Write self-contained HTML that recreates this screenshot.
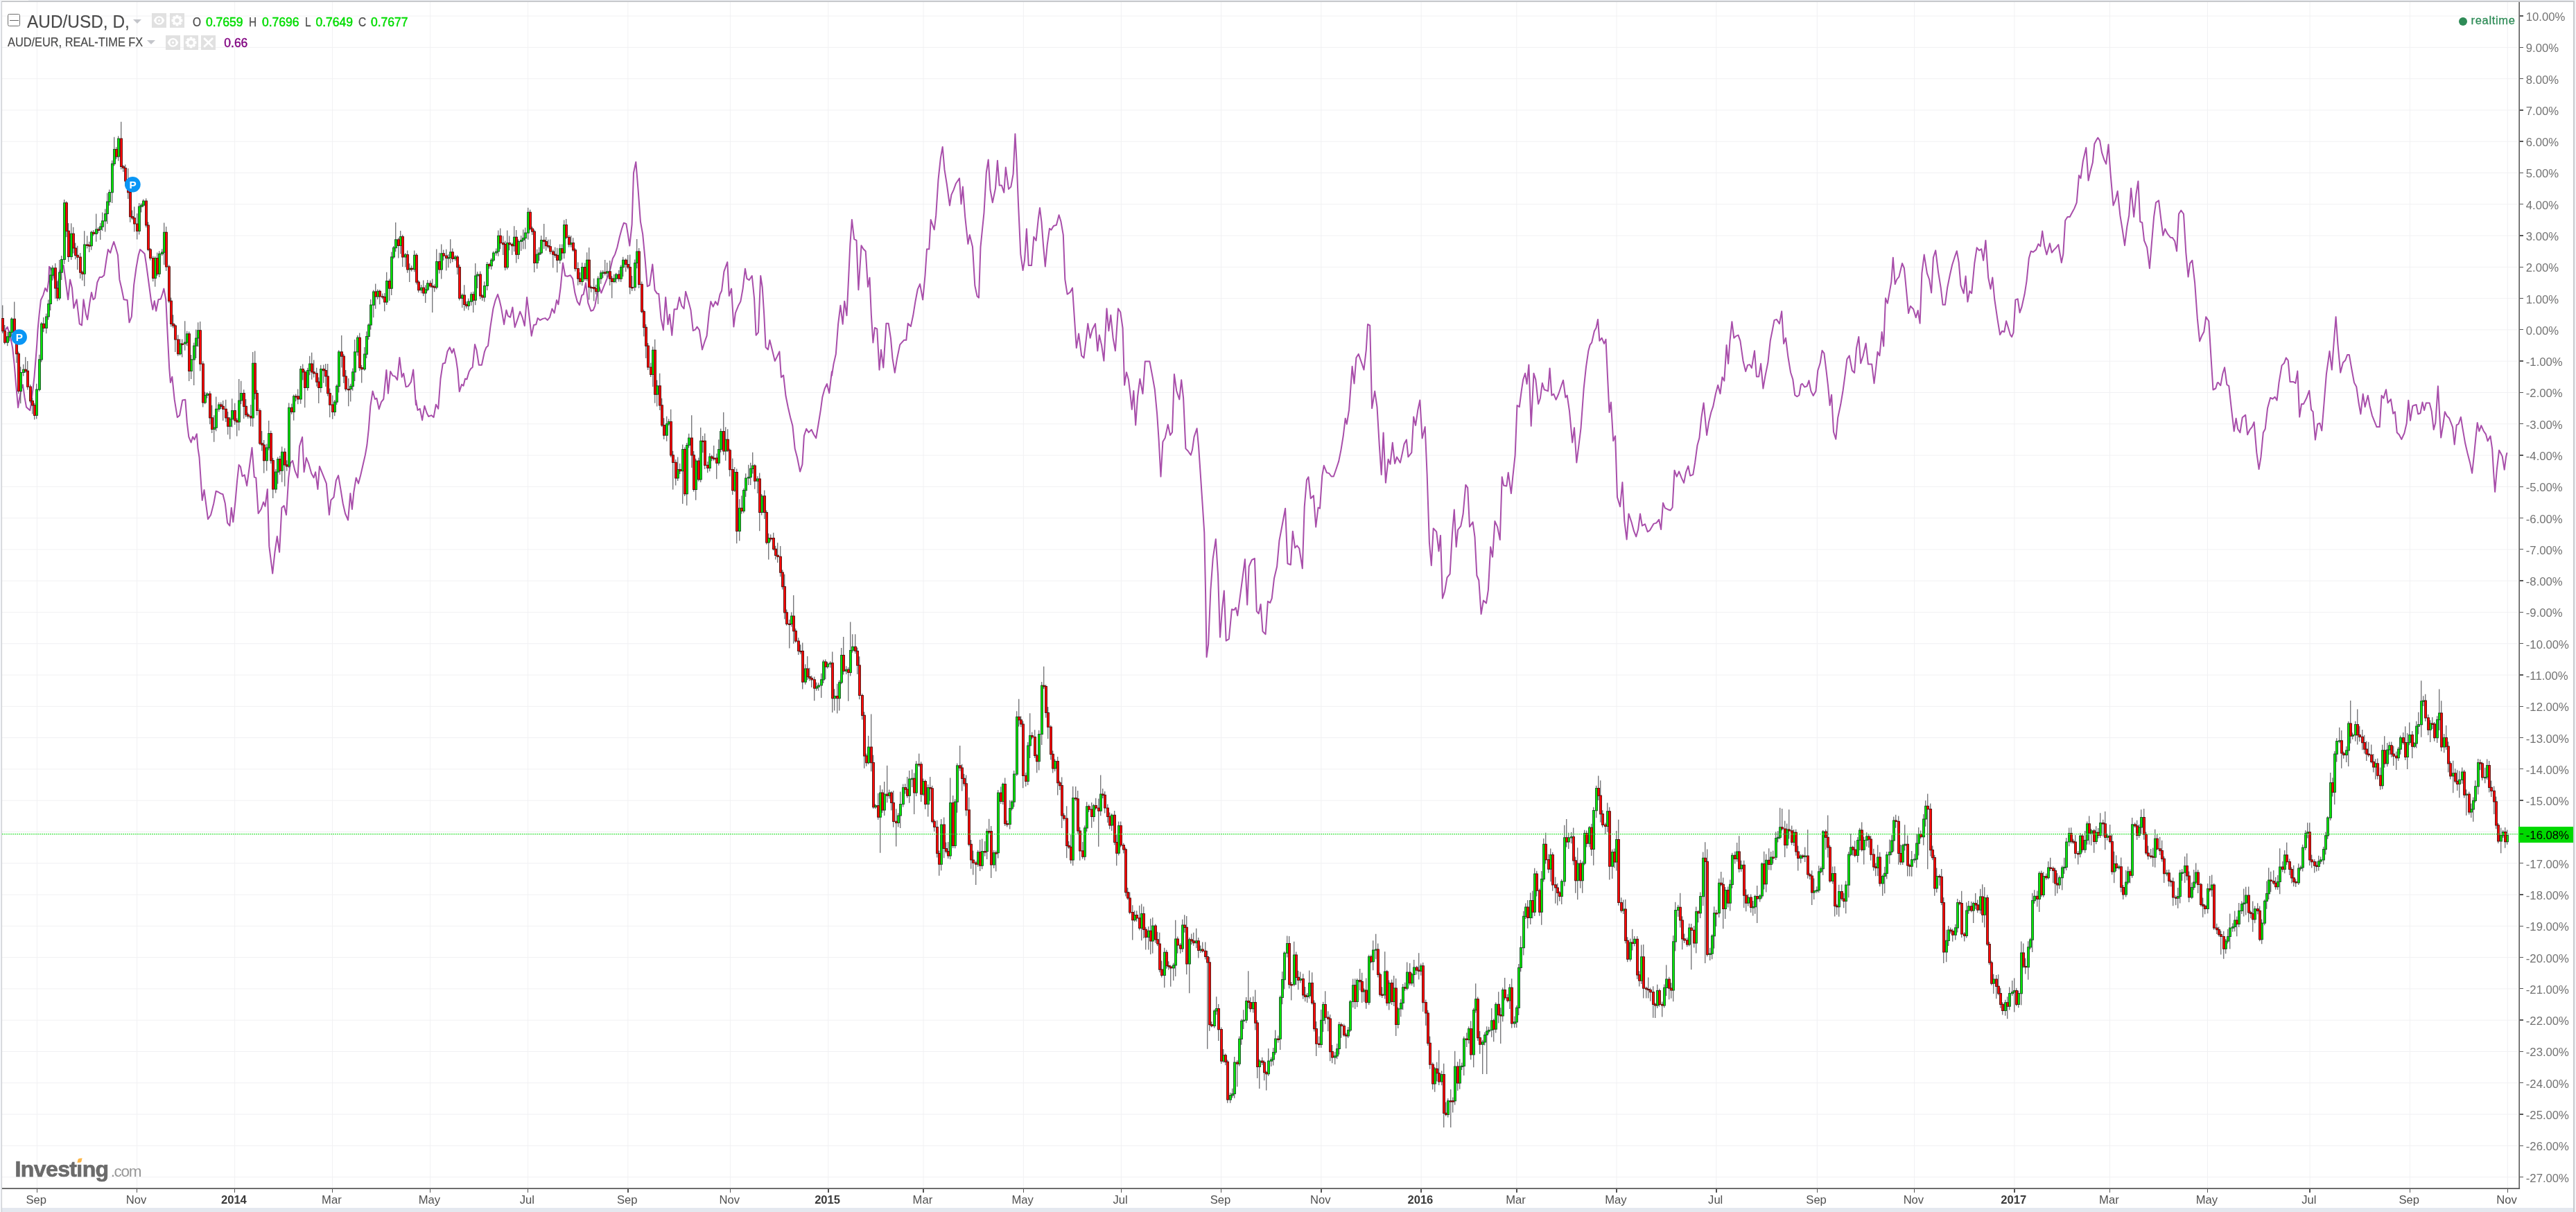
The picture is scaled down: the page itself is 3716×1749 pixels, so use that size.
<!DOCTYPE html>
<html><head><meta charset="utf-8"><title>AUD/USD</title>
<style>
html,body{margin:0;padding:0;background:#fff}
body{width:3716px;height:1749px;position:relative;overflow:hidden;font-family:"Liberation Sans",sans-serif}
#root{position:absolute;left:0;top:0;width:3716px;height:1749px;will-change:transform;transform:translateZ(0)}
.abs{position:absolute}
.hg{position:absolute;left:3px;width:3630px;height:1px;background:#f2f2f4}
.vg{position:absolute;top:3px;height:1711px;width:1px;background:#f2f2f4}
.rt{position:absolute;left:3635px;width:4.8px;height:1.4px;background:#555}
.bt{position:absolute;top:1716px;width:1.6px;height:5px;background:#555}
.rl{position:absolute;left:3643.8px;font-size:16.7px;line-height:20px;height:20px;color:#727272;white-space:nowrap}
.bl{position:absolute;top:1722.1px;width:100px;text-align:center;font-size:16.6px;line-height:20px;color:#505050;white-space:nowrap}
.bl.b{font-weight:bold;color:#3a3a3a}
#chart{position:absolute;left:0;top:0}
.ib{position:absolute;background:#e1e1e1;width:21px;height:21px}
.t1{position:absolute;white-space:nowrap}
</style></head><body><div id="root">
<!-- frame -->
<div class="abs" style="left:0;top:0;width:2px;height:1749px;background:#f1f3f7"></div>
<div class="abs" style="left:2px;top:1px;width:1.2px;height:1748px;background:#c6c8cc"></div>
<div class="abs" style="left:41px;top:0;width:3675px;height:1.3px;background:#eef0f5"></div>
<div class="abs" style="left:2px;top:1px;width:3712px;height:2px;background:#c7c9cc"></div>
<div class="abs" style="left:3712px;top:1px;width:2px;height:1748px;background:#c8cacd"></div>
<div class="abs" style="left:3714px;top:0;width:2px;height:1749px;background:#f2f3f7"></div>
<div class="abs" style="left:3px;top:1743px;width:3709px;height:6px;background:#e4e8ef"></div>

<svg id="chart" width="3716" height="1749" viewBox="0 0 3716 1749">
<path d="M3 23.10H3632M3 68.38H3632M3 113.67H3632M3 158.95H3632M3 204.24H3632M3 249.52H3632M3 294.80H3632M3 340.09H3632M3 385.37H3632M3 430.66H3632M3 475.94H3632M3 521.22H3632M3 566.51H3632M3 611.79H3632M3 657.08H3632M3 702.36H3632M3 747.64H3632M3 792.93H3632M3 838.21H3632M3 883.50H3632M3 928.78H3632M3 974.06H3632M3 1019.35H3632M3 1064.63H3632M3 1109.92H3632M3 1155.20H3632M3 1200.48H3632M3 1245.77H3632M3 1291.05H3632M3 1336.34H3632M3 1381.62H3632M3 1426.90H3632M3 1472.19H3632M3 1517.47H3632M3 1562.76H3632M3 1608.04H3632M3 1653.32H3632M3 1698.61H3632M53.40 3V1714M197.66 3V1714M338.65 3V1714M479.63 3V1714M620.62 3V1714M761.60 3V1714M905.86 3V1714M1053.40 3V1714M1194.80 3V1714M1332.09 3V1714M1476.36 3V1714M1617.34 3V1714M1761.60 3V1714M1905.87 3V1714M2050.13 3V1714M2187.83 3V1714M2332.10 3V1714M2475.90 3V1714M2621.30 3V1714M2761.61 3V1714M2905.87 3V1714M3043.57 3V1714M3184.56 3V1714M3332.10 3V1714M3476.36 3V1714M3617.30 3V1714" stroke="#f1f1f3" stroke-width="1" fill="none"/>
<path d="M6.6 477.6 L10.7 471.8 L15.7 489.2 L18.2 502.4 L20.6 525.5 L23.1 555.2 L26.1 588.2 L28.1 575.0 L30.5 562.6 L33.0 555.2 L35.5 573.4 L38.0 587.4 L43.3 592.3 L45.4 578.3 L47.9 558.5 L49.5 543.6 L51.5 518.9 L53.2 497.4 L54.5 476.0 L56.5 454.5 L58.9 433.0 L62.4 425.6 L65.2 415.7 L68.0 420.6 L70.2 405.0 L71.0 384.8 L74.3 389.0 L77.6 399.3 L82.5 415.8 L86.6 391.0 L91.6 382.8 L94.9 407.5 L98.2 432.3 L101.1 403.4 L104.0 415.8 L106.4 444.7 L110.6 432.3 L114.7 467.3 L118.0 469.4 L120.5 432.3 L123.8 452.9 L126.2 461.2 L129.5 436.4 L132.0 422.0 L134.5 432.3 L137.0 430.2 L140.3 407.5 L143.6 400.1 L146.9 400.1 L150.2 397.2 L153.5 374.5 L155.9 360.1 L159.2 365.0 L161.7 356.0 L164.2 348.9 L167.1 358.0 L170.0 368.3 L172.4 403.4 L175.3 415.8 L178.6 432.3 L183.6 433.1 L186.5 465.3 L189.8 457.0 L193.1 411.7 L196.4 386.9 L199.7 368.3 L202.1 360.1 L205.4 363.0 L208.7 366.3 L211.2 382.8 L214.5 407.5 L217.8 432.3 L220.3 446.7 L222.8 434.3 L225.2 448.8 L228.5 432.3 L231.8 431.5 L234.3 424.0 L236.4 416.6 L239.3 432.3 L241.7 481.8 L244.2 531.3 L245.9 551.9 L248.3 543.7 L251.7 576.7 L255.8 602.2 L259.1 599.4 L263.2 577.5 L267.3 576.7 L269.8 609.7 L272.3 630.3 L275.6 638.5 L278.1 630.3 L280.5 634.4 L283.8 626.2 L285.5 646.8 L287.5 660.0 L291.7 722.0 L294.5 707.0 L300.0 749.2 L304.1 743.0 L308.3 726.5 L311.6 708.8 L314.9 710.0 L318.2 712.1 L321.5 713.3 L324.8 726.5 L328.1 754.6 L331.4 758.7 L333.8 732.7 L336.3 753.3 L339.6 722.4 L342.1 693.5 L344.6 670.8 L347.0 673.7 L349.5 687.3 L352.8 685.3 L356.1 701.0 L359.4 677.0 L363.5 646.1 L366.8 688.6 L369.3 689.4 L372.6 741.0 L376.7 734.8 L380.0 724.5 L382.5 730.7 L385.8 705.9 L388.3 788.4 L393.2 827.6 L396.5 796.7 L399.8 774.0 L403.1 796.7 L406.4 732.7 L409.7 729.8 L413.0 743.0 L416.3 689.4 L418.8 668.8 L422.1 664.7 L425.4 679.1 L429.5 689.4 L432.0 644.0 L436.1 630.8 L438.6 681.2 L441.9 660.5 L445.2 668.8 L449.3 683.2 L452.6 689.4 L455.1 681.2 L458.4 705.9 L460.9 672.9 L464.2 681.2 L467.5 689.4 L470.8 697.7 L474.9 743.0 L477.4 721.6 L481.5 717.5 L484.8 693.5 L488.1 686.1 L491.4 705.9 L494.7 726.5 L498.0 741.0 L502.1 750.5 L505.4 712.1 L507.9 734.8 L510.4 710.0 L513.7 689.4 L517.0 697.7 L520.3 685.3 L523.6 670.8 L526.9 656.4 L529.4 642.0 L531.8 619.3 L534.3 586.3 L537.6 564.4 L540.9 576.0 L543.4 574.7 L546.7 590.4 L550.0 580.1 L553.3 576.0 L557.4 533.9 L559.9 567.7 L563.2 535.9 L566.5 542.1 L569.8 543.0 L573.1 548.3 L576.4 516.1 L579.7 544.2 L582.2 538.8 L585.5 558.2 L588.8 557.4 L592.9 551.2 L596.2 533.5 L599.9 584.2 L600.0 577.5 L602.5 591.9 L605.8 589.9 L609.1 606.4 L612.4 585.7 L615.7 596.0 L618.2 601.0 L622.3 599.3 L625.6 602.2 L628.9 583.7 L632.2 589.9 L635.5 546.5 L638.8 524.7 L642.1 523.8 L645.4 507.3 L648.7 501.2 L652.0 509.4 L654.5 503.2 L657.8 517.7 L660.2 534.2 L662.7 565.1 L666.0 554.8 L668.5 556.8 L671.0 546.5 L673.4 547.4 L676.7 536.2 L679.2 532.1 L681.7 530.0 L685.0 497.0 L687.5 505.3 L690.8 526.7 L694.9 526.7 L699.0 507.3 L701.5 501.2 L704.0 499.1 L707.3 472.3 L711.4 445.5 L714.7 433.1 L718.0 424.8 L720.5 433.1 L722.9 443.4 L727.1 468.2 L730.4 447.5 L732.8 455.8 L736.1 457.8 L739.4 443.4 L742.7 472.3 L746.9 459.9 L750.2 449.6 L753.5 457.8 L756.8 470.2 L760.1 429.0 L763.4 455.8 L766.7 484.7 L770.0 469.0 L773.3 468.2 L775.7 459.1 L779.0 462.0 L783.2 459.9 L786.5 459.1 L789.8 462.0 L793.1 457.8 L796.4 445.5 L799.7 451.7 L803.0 433.1 L805.4 439.3 L808.7 414.5 L812.0 379.5 L815.3 398.0 L818.6 398.8 L822.8 397.2 L826.1 402.1 L829.4 422.8 L832.7 435.1 L836.0 440.1 L839.3 426.1 L841.7 424.8 L845.0 408.3 L848.3 437.2 L852.5 448.8 L855.8 447.5 L858.3 441.3 L861.6 422.8 L864.0 412.5 L867.3 422.8 L870.6 414.5 L873.9 406.3 L877.2 398.0 L880.5 387.7 L883.8 373.3 L887.1 367.1 L890.4 356.8 L893.7 342.3 L897.0 330.0 L899.9 321.7 L903.3 322.9 L905.8 338.2 L908.3 354.7 L911.6 323.8 L914.0 249.5 L917.3 233.8 L920.6 274.3 L923.9 319.6 L927.2 338.2 L930.5 373.3 L933.8 413.3 L937.1 411.6 L941.3 381.5 L944.6 418.6 L947.9 423.6 L950.3 424.0 L953.6 459.9 L956.9 476.4 L960.2 429.0 L963.5 468.2 L966.0 453.7 L969.3 483.8 L972.6 446.3 L976.7 446.3 L980.0 429.0 L983.3 441.3 L986.6 445.5 L989.1 420.7 L993.2 435.1 L996.5 447.5 L999.8 477.2 L1003.1 475.6 L1005.6 471.5 L1008.9 476.4 L1013.0 504.5 L1016.3 493.7 L1019.6 484.7 L1022.9 451.7 L1025.4 435.1 L1028.7 442.6 L1032.0 435.1 L1035.3 440.1 L1038.6 424.8 L1041.1 419.5 L1044.4 391.8 L1049.3 378.2 L1051.8 426.9 L1055.1 416.6 L1058.4 471.5 L1060.9 451.7 L1065.0 441.3 L1068.3 435.1 L1071.6 416.6 L1074.9 387.7 L1077.4 402.1 L1080.7 404.2 L1084.8 398.0 L1088.1 431.0 L1090.6 483.8 L1093.9 479.7 L1097.2 398.0 L1099.7 414.5 L1102.1 451.7 L1104.6 501.2 L1107.9 504.5 L1110.4 490.8 L1114.5 507.3 L1117.8 521.0 L1121.1 514.4 L1124.4 507.3 L1126.9 544.5 L1130.2 541.6 L1133.5 571.3 L1136.8 587.8 L1140.1 602.2 L1143.4 614.6 L1146.7 647.6 L1150.0 660.0 L1154.1 680.6 L1157.4 670.3 L1159.9 629.0 L1163.2 618.7 L1166.5 624.1 L1170.6 620.0 L1173.9 627.0 L1177.2 632.3 L1180.5 612.5 L1183.8 591.9 L1186.3 573.3 L1189.6 561.0 L1192.9 554.0 L1196.2 567.2 L1199.9 536.2 L1200.0 541.9 L1202.5 525.4 L1205.8 511.0 L1209.1 467.7 L1212.4 440.8 L1215.7 467.7 L1218.2 434.7 L1221.5 455.3 L1223.9 405.8 L1226.4 352.1 L1228.9 317.1 L1232.2 345.1 L1235.5 346.8 L1238.4 418.2 L1242.5 354.2 L1245.4 359.2 L1248.7 362.5 L1252.0 414.0 L1254.5 400.8 L1256.9 455.3 L1259.4 494.5 L1261.9 473.0 L1265.2 474.7 L1268.5 533.7 L1271.0 504.8 L1274.3 530.4 L1278.4 466.8 L1281.7 466.8 L1285.0 488.3 L1287.5 517.2 L1290.8 537.8 L1294.1 517.2 L1298.2 497.4 L1301.5 493.6 L1304.0 490.8 L1307.3 490.8 L1309.7 466.8 L1313.9 471.0 L1317.2 455.3 L1320.5 434.7 L1323.8 417.3 L1327.1 409.9 L1331.2 432.6 L1334.5 397.5 L1337.0 359.6 L1340.3 359.6 L1342.7 317.1 L1347.7 331.5 L1350.2 310.9 L1353.5 259.3 L1356.8 228.4 L1359.7 211.9 L1362.5 244.9 L1365.8 265.5 L1370.0 296.5 L1372.4 281.2 L1375.7 273.8 L1379.0 264.7 L1384.0 257.3 L1386.5 294.4 L1388.9 269.6 L1392.2 313.0 L1396.4 352.1 L1398.8 338.9 L1403.0 356.3 L1406.3 412.0 L1409.6 427.6 L1412.0 429.7 L1414.5 356.3 L1417.0 331.5 L1419.5 306.8 L1422.8 249.0 L1425.7 230.4 L1428.5 273.8 L1431.8 292.3 L1436.0 271.7 L1438.9 231.7 L1441.7 267.6 L1445.0 267.6 L1448.3 277.9 L1450.8 241.6 L1455.0 272.9 L1458.3 269.6 L1461.6 251.1 L1464.4 193.3 L1466.5 232.5 L1469.0 294.4 L1472.3 366.6 L1475.6 390.1 L1478.1 374.8 L1480.9 330.3 L1483.8 383.1 L1488.0 383.1 L1491.3 341.8 L1494.6 347.2 L1497.9 315.0 L1499.9 300.6 L1500.0 300.0 L1502.5 320.6 L1505.0 353.6 L1507.8 384.6 L1510.7 353.6 L1514.0 329.7 L1516.5 331.8 L1519.8 326.0 L1523.9 324.8 L1527.6 310.3 L1530.5 319.8 L1533.8 339.2 L1536.3 403.1 L1539.6 424.6 L1543.7 421.7 L1547.0 415.5 L1550.3 465.0 L1552.8 502.1 L1556.1 481.5 L1560.2 513.3 L1563.5 516.6 L1566.8 489.8 L1569.3 467.1 L1572.6 487.7 L1575.9 475.3 L1580.0 467.1 L1583.3 506.3 L1585.8 483.6 L1589.1 498.0 L1592.4 520.7 L1596.5 445.2 L1599.4 477.4 L1602.3 454.7 L1605.6 487.7 L1608.9 506.3 L1613.0 445.2 L1616.3 450.6 L1619.6 473.3 L1622.1 555.8 L1625.0 537.2 L1627.9 547.5 L1630.4 568.2 L1632.8 590.8 L1635.3 564.0 L1638.2 613.5 L1641.1 572.3 L1644.4 546.7 L1648.5 568.2 L1651.8 521.5 L1658.4 521.5 L1662.5 543.4 L1665.8 562.0 L1669.1 597.0 L1671.6 634.2 L1674.5 687.8 L1677.4 637.5 L1680.7 632.1 L1684.8 612.7 L1688.1 628.0 L1691.0 623.8 L1693.9 540.1 L1697.2 564.0 L1701.3 576.4 L1704.2 548.3 L1707.1 574.3 L1710.4 647.4 L1713.7 650.7 L1717.8 656.8 L1720.0 649.1 L1722.5 630.6 L1726.6 618.2 L1729.1 645.0 L1731.6 682.1 L1734.9 731.7 L1737.3 768.8 L1739.0 851.3 L1740.6 948.2 L1743.1 929.7 L1746.4 851.3 L1749.7 805.9 L1753.8 777.9 L1757.1 830.7 L1760.0 919.4 L1762.9 880.2 L1765.8 852.5 L1768.7 924.7 L1772.8 922.2 L1776.9 879.3 L1780.2 880.2 L1782.7 876.9 L1785.2 888.4 L1788.5 863.7 L1792.6 832.7 L1795.9 807.1 L1799.2 872.7 L1801.7 817.5 L1805.8 808.0 L1809.9 805.9 L1812.8 882.2 L1815.7 885.5 L1818.6 871.9 L1821.5 911.1 L1825.6 915.2 L1828.9 867.8 L1832.2 869.9 L1834.7 863.7 L1838.0 834.8 L1842.1 817.5 L1845.4 780.3 L1849.5 758.5 L1854.1 733.7 L1857.4 813.3 L1861.9 815.0 L1864.8 766.7 L1868.1 790.6 L1871.0 787.3 L1874.3 791.5 L1878.8 820.3 L1881.7 731.7 L1885.0 692.5 L1887.5 688.3 L1890.8 719.3 L1894.9 715.1 L1898.2 760.5 L1901.5 732.5 L1904.0 733.7 L1907.3 686.3 L1909.8 671.8 L1913.9 682.1 L1917.2 683.0 L1920.5 687.5 L1923.8 687.5 L1927.1 678.0 L1931.2 665.6 L1934.5 649.1 L1937.8 628.5 L1940.7 603.8 L1942.8 612.0 L1946.1 591.4 L1948.5 558.4 L1950.6 528.7 L1953.5 553.4 L1956.4 516.3 L1959.7 510.9 L1963.4 521.3 L1967.5 533.6 L1970.8 504.8 L1973.0 468.0 L1976.2 469.7 L1979.1 589.3 L1983.2 564.6 L1986.5 587.3 L1989.8 643.0 L1992.7 685.0 L1995.6 624.4 L1998.9 696.6 L2002.6 662.8 L2005.5 669.8 L2008.8 638.8 L2012.1 668.9 L2015.0 659.5 L2019.9 667.7 L2023.1 653.1 L2025.6 640.7 L2028.9 634.5 L2031.4 659.3 L2036.3 653.1 L2039.2 601.5 L2042.1 613.9 L2045.4 591.2 L2048.3 577.6 L2051.6 632.5 L2055.7 616.0 L2058.6 684.0 L2061.9 783.0 L2064.8 816.0 L2067.7 762.4 L2072.2 767.4 L2075.5 795.4 L2078.0 772.7 L2080.9 863.5 L2084.2 853.2 L2087.5 833.4 L2091.6 828.4 L2094.9 770.7 L2097.8 735.6 L2100.7 789.2 L2103.1 764.5 L2107.3 759.1 L2110.6 741.8 L2114.3 699.7 L2117.2 703.8 L2120.0 760.3 L2124.6 753.3 L2127.5 774.8 L2130.4 830.5 L2133.3 837.5 L2136.6 886.2 L2139.9 866.4 L2144.0 870.5 L2146.9 851.1 L2150.2 789.2 L2153.1 803.7 L2156.4 752.1 L2160.1 760.3 L2163.8 778.9 L2166.7 688.2 L2169.1 700.5 L2173.3 701.4 L2175.7 682.0 L2179.9 712.1 L2182.3 688.2 L2185.6 657.2 L2188.5 585.0 L2191.8 587.1 L2194.7 564.4 L2197.2 547.9 L2200.1 538.8 L2202.6 554.1 L2205.4 526.4 L2208.7 614.7 L2212.5 538.8 L2215.3 547.9 L2219.1 583.0 L2221.9 574.7 L2224.8 552.8 L2227.7 562.3 L2233.1 564.4 L2235.6 531.4 L2238.4 570.6 L2241.3 568.5 L2244.6 576.8 L2248.3 568.5 L2251.7 558.2 L2255.0 548.7 L2258.3 573.5 L2260.7 570.6 L2264.0 593.3 L2268.2 638.6 L2271.0 617.2 L2274.3 667.5 L2277.2 644.8 L2280.5 618.0 L2284.7 560.3 L2288.0 529.3 L2291.3 506.6 L2293.7 497.6 L2296.2 494.3 L2299.9 477.8 L2302.5 473.3 L2305.0 460.9 L2307.4 491.8 L2310.7 487.7 L2314.0 496.0 L2316.5 489.8 L2319.0 543.4 L2321.5 595.0 L2323.9 580.5 L2327.2 636.2 L2330.1 629.2 L2333.0 717.5 L2337.1 731.1 L2340.4 696.0 L2343.3 751.7 L2346.6 778.5 L2349.5 741.4 L2353.6 753.8 L2356.9 766.2 L2360.2 774.4 L2363.1 764.1 L2366.0 741.4 L2368.9 758.7 L2373.0 756.3 L2376.7 767.4 L2380.0 765.3 L2385.4 755.9 L2389.5 754.6 L2393.2 749.7 L2396.1 764.1 L2399.0 725.7 L2401.9 733.2 L2406.0 735.2 L2409.7 736.5 L2412.6 732.3 L2415.5 678.7 L2418.8 687.8 L2422.1 680.4 L2425.8 689.9 L2429.1 696.9 L2432.0 681.6 L2435.3 672.5 L2438.2 686.6 L2442.3 684.9 L2445.2 667.2 L2448.5 642.4 L2451.4 632.1 L2454.3 603.2 L2457.6 581.4 L2462.1 628.0 L2465.0 609.4 L2468.3 595.0 L2471.2 586.7 L2474.9 568.2 L2478.2 555.8 L2481.5 568.2 L2484.4 544.2 L2487.3 549.6 L2490.6 498.0 L2493.1 524.8 L2495.5 491.8 L2498.4 464.2 L2501.3 487.7 L2504.6 484.8 L2507.5 483.6 L2510.4 491.8 L2514.5 520.7 L2518.2 536.0 L2521.1 526.9 L2524.0 526.1 L2526.9 531.0 L2531.0 506.3 L2533.9 543.4 L2537.2 543.4 L2540.1 524.8 L2543.4 560.7 L2546.3 543.4 L2550.4 522.8 L2553.7 491.8 L2556.6 477.4 L2559.5 462.1 L2562.8 460.9 L2566.9 467.1 L2570.2 449.3 L2573.1 496.0 L2576.0 487.7 L2579.3 514.5 L2583.0 537.2 L2586.3 547.5 L2589.2 570.2 L2592.5 572.3 L2595.4 570.2 L2597.9 555.0 L2599.9 553.7 L2603.3 558.6 L2606.6 557.3 L2609.5 549.1 L2612.4 564.4 L2615.7 571.0 L2619.4 564.4 L2622.3 534.7 L2625.6 524.3 L2628.5 505.8 L2631.4 509.9 L2634.7 536.7 L2637.1 557.3 L2639.6 585.0 L2642.1 569.7 L2645.0 623.3 L2648.3 633.7 L2651.2 602.7 L2655.3 583.3 L2658.6 563.5 L2661.9 538.8 L2664.4 518.2 L2667.7 513.2 L2671.8 534.7 L2675.1 538.0 L2678.0 502.5 L2681.3 486.0 L2684.2 524.3 L2687.5 514.0 L2691.6 495.5 L2694.9 525.6 L2700.2 525.6 L2703.5 553.2 L2706.4 528.5 L2708.5 507.8 L2711.4 513.2 L2714.7 479.0 L2717.2 499.6 L2720.0 430.3 L2722.9 437.7 L2725.8 421.2 L2728.3 406.8 L2730.8 371.7 L2733.7 410.1 L2736.1 403.5 L2739.4 399.3 L2744.0 380.0 L2746.9 387.0 L2750.2 421.2 L2753.1 452.1 L2755.9 441.8 L2760.1 446.0 L2763.8 458.3 L2766.7 448.0 L2769.6 466.6 L2772.4 394.4 L2775.7 367.6 L2779.9 394.4 L2783.2 403.5 L2786.1 422.4 L2788.9 371.7 L2792.2 361.4 L2796.0 392.3 L2799.7 415.0 L2802.6 439.8 L2805.9 439.8 L2809.2 415.0 L2812.9 396.5 L2816.2 382.0 L2819.5 371.7 L2822.8 362.2 L2825.7 378.7 L2828.5 411.7 L2832.7 423.3 L2835.6 398.5 L2838.4 435.6 L2841.3 420.0 L2844.2 423.3 L2848.3 380.0 L2851.7 357.3 L2855.0 361.4 L2858.3 359.3 L2861.1 375.8 L2864.4 346.9 L2868.2 400.6 L2871.5 417.1 L2874.3 400.6 L2877.2 431.5 L2881.4 460.4 L2885.1 483.1 L2888.0 477.7 L2891.3 479.0 L2894.1 463.3 L2897.0 472.8 L2899.9 483.1 L2902.1 486.2 L2904.5 480.0 L2907.4 432.6 L2910.7 431.4 L2913.6 451.2 L2916.5 442.9 L2920.6 424.3 L2923.5 405.8 L2926.8 372.8 L2929.7 362.5 L2933.0 363.7 L2937.1 360.4 L2940.4 352.1 L2943.3 355.4 L2946.2 333.6 L2949.1 354.2 L2952.4 367.4 L2956.9 351.3 L2959.8 364.5 L2963.1 360.4 L2966.0 357.5 L2969.3 353.0 L2973.8 379.0 L2976.3 366.6 L2979.2 318.3 L2982.5 313.0 L2985.8 313.0 L2989.1 306.8 L2992.4 300.6 L2995.7 292.3 L2999.0 253.1 L3001.5 257.3 L3004.8 232.5 L3009.3 213.1 L3012.6 260.6 L3015.5 246.9 L3018.8 234.6 L3021.3 207.8 L3023.8 202.8 L3026.2 198.7 L3029.1 202.8 L3032.0 220.1 L3035.3 230.4 L3038.2 236.6 L3041.5 208.6 L3044.4 249.0 L3048.5 296.5 L3051.8 288.2 L3054.7 275.8 L3058.4 310.9 L3061.7 331.5 L3065.0 354.2 L3068.3 327.4 L3071.2 310.9 L3074.1 271.7 L3078.2 313.0 L3081.5 280.0 L3084.4 261.4 L3087.3 320.0 L3090.2 321.2 L3093.1 347.2 L3097.2 357.1 L3100.9 387.2 L3103.8 352.1 L3107.1 313.0 L3110.0 292.3 L3114.1 289.4 L3117.4 317.1 L3120.3 339.8 L3123.2 330.3 L3126.9 337.7 L3131.0 342.7 L3133.9 343.1 L3137.2 348.0 L3140.1 362.5 L3143.0 308.8 L3146.3 303.5 L3150.0 308.8 L3153.3 364.5 L3156.6 399.6 L3159.1 380.2 L3162.4 375.7 L3166.1 407.8 L3169.8 459.4 L3173.1 492.4 L3176.4 484.2 L3179.3 478.8 L3182.2 457.3 L3186.3 463.5 L3189.6 517.2 L3192.5 562.5 L3196.2 560.5 L3198.7 552.2 L3200.0 552.1 L3203.3 556.3 L3206.2 539.8 L3209.1 530.3 L3212.4 555.0 L3215.3 557.1 L3218.6 587.2 L3222.7 622.3 L3225.6 603.7 L3228.1 619.0 L3231.4 624.3 L3234.7 602.5 L3239.2 598.8 L3242.1 627.2 L3245.4 620.2 L3248.7 616.1 L3251.6 609.1 L3255.3 653.2 L3258.6 677.1 L3261.5 659.4 L3264.8 624.3 L3267.7 619.0 L3271.0 589.3 L3275.1 574.0 L3278.4 575.7 L3281.7 572.8 L3284.6 577.7 L3287.5 552.1 L3291.6 527.4 L3294.9 524.1 L3297.8 516.3 L3300.7 520.0 L3303.5 550.9 L3308.1 550.9 L3311.4 553.0 L3314.3 535.6 L3317.2 601.7 L3320.0 583.1 L3322.9 583.1 L3327.1 574.8 L3331.2 563.7 L3334.1 591.3 L3336.6 594.2 L3339.9 634.7 L3343.2 612.0 L3346.5 610.7 L3349.3 621.5 L3352.6 581.0 L3355.9 539.8 L3360.5 506.8 L3363.8 533.6 L3366.7 494.4 L3369.6 457.3 L3372.4 496.5 L3376.2 537.7 L3379.9 523.3 L3383.2 520.0 L3386.1 512.1 L3388.9 512.1 L3392.2 531.5 L3396.0 552.1 L3399.3 558.3 L3402.6 581.8 L3405.4 597.5 L3408.7 568.6 L3411.6 587.2 L3415.8 570.7 L3418.6 586.0 L3421.9 599.6 L3425.2 607.8 L3428.5 616.1 L3432.7 616.1 L3435.6 570.7 L3438.4 574.8 L3440.0 568.9 L3442.0 562.2 L3444.6 581.4 L3448.9 576.1 L3452.2 596.9 L3454.9 594.3 L3457.8 624.3 L3460.8 627.3 L3464.4 633.9 L3468.4 625.0 L3471.7 610.8 L3474.3 577.8 L3477.0 606.8 L3480.3 586.0 L3482.9 584.7 L3485.6 584.0 L3488.2 597.6 L3491.5 596.3 L3494.5 580.4 L3497.1 592.0 L3499.8 581.4 L3504.7 581.4 L3507.7 593.6 L3510.7 620.0 L3513.3 610.1 L3516.9 557.3 L3519.2 598.6 L3521.2 631.6 L3524.2 613.4 L3526.8 594.3 L3529.8 600.2 L3533.1 603.5 L3535.7 610.1 L3538.1 616.7 L3540.7 641.5 L3543.7 613.4 L3546.6 611.8 L3549.9 601.9 L3552.2 616.7 L3556.2 639.8 L3559.5 654.0 L3563.1 667.9 L3566.1 682.8 L3568.8 658.0 L3571.4 631.6 L3573.7 610.1 L3576.3 622.3 L3579.3 614.1 L3582.6 621.7 L3585.9 626.6 L3588.6 636.5 L3592.5 629.3 L3595.2 648.1 L3597.1 681.1 L3599.1 709.8 L3601.8 677.8 L3605.1 649.7 L3607.4 654.0 L3609.7 658.6 L3612.7 677.8 L3615.0 659.6 L3616.3 654.0" fill="none" stroke="#a84eaa" stroke-width="2" stroke-linejoin="round" stroke-linecap="round"/>
<path d="M3.75 440.5V480.9M6.75 468.9V496.8M10.75 478.9V499.2M13.75 477.1V492.5M16.75 457.9V485.4M20.75 435.6V488.7M23.75 480.3V523.7M26.75 507.6V568.1M29.75 529.2V582.3M33.75 525.8V542.8M36.75 515.3V537.9M39.75 521.1V562.4M43.75 554.9V581.7M46.75 574.2V597.6M49.75 581.5V605.5M52.75 553.7V604.4M56.75 511.8V564.8M59.75 464.8V522.5M62.75 458.1V479.2M66.75 452.5V481.2M69.75 432.5V461.4M72.75 385.2V448.1M75.75 383.0V404.7M79.75 380.1V430.9M82.75 405.5V434.5M85.75 375.1V433.2M88.75 369.0V404.1M92.75 287.9V380.9M95.75 290.4V342.3M98.75 322.1V377.9M102.75 322.3V374.9M105.75 327.8V365.8M108.75 350.4V374.3M111.75 354.8V389.2M115.75 365.0V402.1M118.75 390.5V404.8M121.75 333.3V413.1M125.75 340.2V358.5M128.75 348.7V364.1M131.75 333.0V360.8M134.75 332.0V340.4M138.75 308.5V348.7M141.75 328.1V336.4M144.75 321.8V346.1M147.75 306.5V333.0M151.75 301.4V334.4M154.75 278.4V323.1M157.75 273.4V296.7M161.75 231.4V293.1M164.75 197.7V239.5M167.75 212.3V229.8M170.75 196.2V232.3M174.75 175.7V244.5M177.75 238.2V248.1M180.75 237.5V268.5M184.75 243.1V287.0M187.75 270.9V320.8M190.75 303.4V317.2M193.75 298.3V334.5M197.75 307.9V345.4M200.75 292.9V338.6M203.75 293.3V306.6M206.75 287.4V298.8M210.75 286.3V328.3M213.75 320.2V362.6M216.75 357.9V375.7M220.75 369.6V406.3M223.75 370.1V413.7M226.75 364.4V398.3M229.75 362.3V400.0M233.75 359.2V369.3M236.75 321.4V382.2M239.75 327.1V391.1M243.75 382.1V437.2M246.75 429.5V471.5M249.75 454.2V473.5M252.75 467.9V508.0M256.75 483.2V513.8M259.75 489.2V513.0M262.75 489.4V515.4M266.75 463.2V505.8M269.75 477.7V499.2M272.75 478.4V549.9M275.75 512.0V547.0M279.75 494.4V556.0M282.75 475.4V517.1M285.75 465.3V500.3M288.75 464.1V535.6M292.75 521.3V587.5M295.75 565.6V583.2M298.75 566.0V574.7M302.75 564.4V612.3M305.75 584.8V625.1M308.75 599.2V637.8M311.75 572.4V622.2M315.75 580.5V594.2M318.75 580.6V589.9M321.75 578.0V606.9M325.75 576.8V609.0M328.75 594.0V627.3M331.75 602.1V633.7M334.75 575.3V616.5M338.75 581.7V613.1M341.75 603.5V629.6M344.75 547.1V621.2M347.75 549.7V583.3M351.75 562.3V604.3M354.75 576.1V602.0M357.75 595.6V603.9M361.75 583.9V615.2M364.75 507.9V615.8M367.75 506.4V576.5M370.75 562.8V599.6M374.75 589.4V642.2M377.75 621.9V650.7M380.75 635.1V682.7M384.75 640.4V679.6M387.75 606.9V649.8M390.75 621.5V669.0M393.75 660.7V719.1M397.75 677.1V711.5M400.75 659.5V698.3M403.75 657.7V685.1M406.75 644.6V695.8M410.75 646.7V701.8M413.75 664.3V679.8M416.75 581.5V675.2M420.75 582.5V598.0M423.75 569.6V606.7M426.75 568.5V579.2M429.75 561.6V583.2M433.75 528.0V582.7M436.75 525.4V548.5M439.75 533.9V588.3M443.75 530.7V563.7M446.75 513.8V541.3M449.75 508.7V547.8M452.75 519.5V544.7M456.75 530.8V557.8M459.75 544.6V582.1M462.75 526.7V566.4M466.75 526.4V552.7M469.75 525.1V558.1M472.75 525.0V571.8M475.75 560.4V602.2M479.75 570.6V604.8M482.75 577.1V600.3M485.75 554.7V584.0M488.75 505.2V566.5M492.75 484.0V530.4M495.75 510.8V553.0M498.75 534.1V564.7M502.75 546.0V586.3M505.75 553.7V579.5M508.75 531.4V563.7M511.75 489.9V550.0M515.75 484.0V513.6M518.75 480.6V535.3M521.75 527.0V552.4M525.75 501.0V535.0M528.75 478.3V517.0M531.75 466.7V490.2M534.75 431.9V475.7M538.75 418.6V458.2M541.75 409.4V445.8M544.75 417.5V431.9M547.75 417.9V439.3M551.75 423.6V432.0M554.75 423.0V449.2M557.75 392.7V440.1M561.75 402.3V434.0M564.75 363.4V425.9M567.75 354.9V373.4M570.75 321.0V363.3M574.75 343.1V372.4M577.75 333.0V366.6M580.75 338.7V385.1M584.75 364.9V385.4M587.75 361.6V393.8M590.75 380.2V407.0M593.75 383.2V391.7M597.75 361.5V392.6M600.75 365.5V410.5M603.75 404.6V422.3M607.75 410.9V423.2M610.75 404.4V427.2M613.75 411.4V436.9M616.75 404.0V420.2M620.75 404.8V415.2M623.75 402.5V450.9M626.75 410.3V421.2M629.75 359.5V417.5M633.75 364.7V394.7M636.75 352.4V402.4M639.75 360.6V375.8M643.75 359.8V390.5M646.75 366.9V386.2M649.75 345.3V380.1M652.75 358.5V378.2M656.75 368.3V376.4M659.75 368.2V396.3M662.75 381.7V433.6M666.75 423.4V443.9M669.75 411.3V448.4M672.75 435.1V445.3M675.75 430.8V447.4M679.75 421.6V441.0M682.75 420.7V451.1M685.75 380.0V440.2M688.75 392.0V416.0M692.75 391.5V431.8M695.75 424.7V434.1M698.75 406.3V435.5M702.75 377.9V419.0M705.75 379.3V387.7M708.75 372.5V388.9M711.75 362.6V377.7M715.75 358.5V368.9M718.75 332.6V369.8M721.75 329.5V359.4M725.75 340.6V367.9M728.75 347.4V390.3M731.75 332.6V388.8M734.75 340.4V361.2M738.75 350.2V368.1M741.75 326.3V363.0M744.75 331.9V379.6M747.75 345.4V373.9M751.75 339.9V361.9M754.75 331.2V359.5M757.75 328.5V359.6M761.75 299.8V345.7M764.75 302.6V332.3M767.75 326.9V339.0M770.75 331.2V392.9M774.75 359.8V387.8M777.75 356.7V376.4M780.75 340.1V367.2M784.75 322.9V359.3M787.75 342.0V361.7M790.75 345.8V358.6M793.75 345.5V367.0M797.75 360.3V386.5M800.75 356.8V371.9M803.75 357.8V393.3M807.75 352.4V380.5M810.75 352.6V374.4M813.75 317.6V373.2M816.75 316.0V345.0M820.75 339.1V356.7M823.75 339.9V357.1M826.75 343.2V363.2M829.75 358.3V391.8M833.75 378.6V411.7M836.75 393.0V410.6M839.75 378.9V412.3M843.75 379.5V405.1M846.75 364.2V405.7M849.75 357.3V432.5M852.75 412.2V421.7M856.75 401.7V434.6M859.75 410.7V424.8M862.75 398.5V438.7M866.75 390.2V409.7M869.75 389.9V401.1M872.75 375.1V397.4M875.75 379.0V400.5M879.75 376.1V411.9M882.75 398.3V430.2M885.75 395.8V408.6M888.75 393.7V408.5M892.75 390.0V406.6M895.75 382.5V407.0M898.75 370.8V399.2M902.75 373.1V392.3M905.75 368.0V388.6M908.75 367.6V424.5M911.75 397.9V420.0M915.75 374.4V419.8M918.75 345.0V387.2M921.75 358.0V416.1M925.75 406.2V452.1M928.75 446.7V485.6M931.75 468.0V517.1M934.75 495.1V534.1M938.75 523.4V543.9M941.75 500.2V558.3M944.75 489.7V581.8M947.75 548.5V586.6M951.75 538.8V591.9M954.75 574.7V616.1M957.75 603.3V634.0M961.75 600.7V636.7M964.75 604.4V614.1M967.75 590.7V660.0M970.75 650.8V706.5M974.75 662.9V700.5M977.75 659.6V694.0M980.75 668.8V684.1M984.75 641.4V727.1M987.75 645.4V715.9M990.75 638.9V729.5M993.75 625.7V646.2M997.75 599.2V674.9M1000.75 651.0V709.6M1003.75 661.7V721.7M1007.75 660.4V694.8M1010.75 616.9V696.1M1013.75 628.9V653.3M1016.75 625.5V676.9M1020.75 665.9V682.3M1023.75 653.9V680.3M1026.75 656.4V665.3M1029.75 643.1V665.3M1033.75 654.5V691.2M1036.75 634.2V671.8M1039.75 618.5V652.7M1043.75 595.1V656.6M1046.75 616.3V664.7M1049.75 619.3V652.3M1052.75 647.5V687.4M1056.75 661.4V713.9M1059.75 674.0V709.9M1062.75 676.4V784.3M1066.75 720.2V780.5M1069.75 715.3V741.4M1072.75 704.8V740.6M1075.75 683.2V717.0M1079.75 670.7V700.1M1082.75 667.7V699.9M1085.75 652.8V683.5M1088.75 669.8V705.7M1092.75 687.3V711.9M1095.75 682.6V766.3M1098.75 712.9V743.5M1102.75 707.5V749.1M1105.75 736.5V785.4M1108.75 769.8V807.5M1111.75 771.3V781.6M1115.75 768.7V794.5M1118.75 787.8V807.4M1121.75 783.3V812.0M1125.75 787.9V832.3M1128.75 822.2V850.7M1131.75 828.7V893.6M1134.75 879.4V902.7M1138.75 893.9V935.4M1141.75 883.6V904.4M1144.75 859.1V928.7M1147.75 906.9V927.5M1151.75 920.3V945.1M1154.75 930.2V944.3M1157.75 927.4V994.6M1161.75 958.6V987.7M1164.75 947.1V981.2M1167.75 963.8V982.6M1170.75 975.0V991.9M1174.75 976.4V1011.2M1177.75 984.7V996.7M1180.75 985.3V996.7M1184.75 971.8V1007.0M1187.75 952.0V986.1M1190.75 951.5V980.2M1193.75 955.0V964.8M1197.75 954.3V963.4M1200.75 940.5V1028.2M1203.75 994.3V1025.6M1207.75 986.7V1029.5M1210.75 981.4V1025.6M1213.75 935.0V987.3M1216.75 918.9V973.6M1220.75 961.3V973.1M1223.75 963.0V1011.7M1226.75 897.5V975.4M1229.75 915.3V941.7M1233.75 915.3V943.2M1236.75 934.6V973.1M1239.75 947.3V1009.2M1243.75 1001.0V1038.5M1246.75 1027.3V1108.8M1249.75 1087.4V1105.7M1252.75 1061.7V1103.1M1256.75 1030.6V1113.3M1259.75 1089.5V1167.1M1262.75 1160.2V1167.3M1266.75 1144.7V1183.1M1269.75 1133.3V1230.7M1272.75 1139.3V1172.9M1275.75 1128.1V1176.9M1279.75 1104.8V1158.2M1282.75 1139.5V1152.4M1285.75 1141.8V1169.4M1288.75 1140.9V1193.7M1292.75 1167.3V1221.6M1295.75 1173.2V1193.5M1298.75 1142.5V1195.0M1302.75 1131.4V1164.5M1305.75 1130.9V1145.5M1308.75 1121.1V1151.6M1311.75 1112.0V1158.7M1315.75 1110.5V1136.0M1318.75 1115.4V1175.0M1321.75 1098.2V1149.0M1325.75 1087.5V1106.7M1328.75 1099.2V1157.0M1331.75 1123.6V1148.7M1334.75 1125.1V1167.7M1338.75 1132.0V1178.5M1341.75 1121.1V1155.8M1344.75 1133.7V1188.0M1347.75 1182.5V1200.0M1351.75 1183.7V1237.4M1354.75 1227.6V1263.7M1357.75 1182.0V1256.3M1361.75 1179.5V1238.3M1364.75 1215.5V1231.6M1367.75 1215.0V1239.1M1370.75 1122.6V1239.9M1374.75 1148.0V1223.9M1377.75 1153.3V1224.3M1380.75 1101.6V1172.8M1384.75 1076.0V1112.8M1387.75 1102.8V1141.4M1390.75 1116.8V1134.7M1393.75 1118.4V1177.5M1397.75 1150.8V1221.2M1400.75 1212.1V1253.8M1403.75 1227.4V1262.5M1407.75 1242.6V1276.9M1410.75 1226.8V1250.7M1413.75 1211.8V1256.9M1416.75 1210.6V1254.3M1420.75 1213.9V1235.7M1423.75 1195.7V1240.1M1426.75 1181.7V1203.8M1429.75 1191.9V1267.0M1433.75 1226.9V1253.0M1436.75 1227.5V1257.5M1439.75 1140.0V1238.5M1443.75 1135.3V1160.0M1446.75 1129.4V1161.1M1449.75 1122.4V1192.1M1452.75 1184.1V1193.4M1456.75 1154.7V1196.5M1459.75 1154.6V1169.6M1462.75 1111.9V1164.4M1466.75 1026.2V1120.0M1469.75 1008.7V1048.4M1472.75 1033.4V1049.3M1475.75 1040.5V1137.3M1479.75 1114.8V1134.9M1482.75 1071.0V1133.1M1485.75 1029.3V1094.0M1488.75 1056.5V1067.1M1492.75 1053.3V1094.0M1495.75 1088.2V1115.2M1498.75 1053.8V1111.5M1502.75 983.9V1074.9M1505.75 961.7V993.9M1508.75 988.3V1035.7M1511.75 1020.0V1066.3M1515.75 1046.4V1096.6M1518.75 1083.3V1115.5M1521.75 1095.5V1113.2M1525.75 1091.9V1147.6M1528.75 1126.7V1140.1M1531.75 1121.4V1195.0M1534.75 1173.5V1184.2M1538.75 1163.2V1238.3M1541.75 1214.1V1224.9M1544.75 1204.4V1246.2M1547.75 1134.8V1249.2M1551.75 1135.1V1156.1M1554.75 1141.1V1202.8M1557.75 1193.6V1241.7M1561.75 1214.7V1239.6M1564.75 1191.2V1241.5M1567.75 1157.2V1200.1M1570.75 1160.9V1172.0M1574.75 1157.9V1194.7M1577.75 1160.2V1185.7M1580.75 1151.7V1168.4M1584.75 1152.5V1221.7M1587.75 1118.6V1177.3M1590.75 1137.9V1151.9M1593.75 1141.9V1173.6M1597.75 1160.4V1187.3M1600.75 1172.5V1196.5M1603.75 1174.0V1198.9M1607.75 1170.0V1219.4M1610.75 1204.4V1249.3M1613.75 1185.6V1234.6M1616.75 1185.4V1222.5M1620.75 1216.6V1231.5M1623.75 1223.0V1293.5M1626.75 1281.1V1298.4M1629.75 1287.5V1319.3M1633.75 1306.2V1356.6M1636.75 1314.1V1330.3M1639.75 1314.2V1330.0M1643.75 1306.8V1342.4M1646.75 1304.4V1357.3M1649.75 1308.3V1354.0M1652.75 1337.8V1370.5M1656.75 1337.0V1370.5M1659.75 1325.8V1377.2M1662.75 1324.1V1375.8M1666.75 1333.4V1360.7M1669.75 1344.8V1365.2M1672.75 1345.7V1403.3M1675.75 1386.4V1410.5M1679.75 1367.8V1425.2M1682.75 1370.7V1397.8M1685.75 1387.2V1399.5M1688.75 1392.5V1423.8M1692.75 1389.6V1415.0M1695.75 1327.7V1409.1M1698.75 1351.6V1375.8M1702.75 1361.1V1375.9M1705.75 1326.7V1373.9M1708.75 1320.2V1345.7M1711.75 1321.9V1406.3M1715.75 1352.9V1433.3M1718.75 1347.4V1363.1M1721.75 1345.7V1364.8M1725.75 1339.8V1368.3M1728.75 1352.9V1382.6M1731.75 1364.4V1374.9M1734.75 1359.6V1374.8M1738.75 1359.5V1384.5M1741.75 1372.0V1513.8M1744.75 1381.1V1487.7M1747.75 1474.2V1482.6M1751.75 1456.5V1483.6M1754.75 1438.3V1464.6M1757.75 1449.0V1501.9M1761.75 1482.6V1534.9M1764.75 1514.1V1533.4M1767.75 1520.6V1537.3M1770.75 1529.4V1591.7M1774.75 1576.8V1591.7M1777.75 1570.8V1584.2M1780.75 1524.9V1584.7M1784.75 1530.1V1568.2M1787.75 1495.4V1538.4M1790.75 1470.5V1507.8M1793.75 1457.2V1485.0M1797.75 1439.1V1476.2M1800.75 1401.2V1455.2M1803.75 1439.2V1460.5M1807.75 1437.9V1461.4M1810.75 1428.5V1486.6M1813.75 1472.3V1556.1M1816.75 1528.6V1571.1M1820.75 1525.7V1537.1M1823.75 1530.6V1559.2M1826.75 1545.3V1573.6M1829.75 1513.1V1552.8M1833.75 1525.5V1539.1M1836.75 1512.1V1537.6M1839.75 1486.5V1522.1M1843.75 1494.6V1504.7M1846.75 1436.8V1514.9M1849.75 1402.0V1449.3M1852.75 1373.1V1427.4M1856.75 1350.6V1381.4M1859.75 1351.1V1426.6M1862.75 1416.9V1443.4M1866.75 1358.8V1423.2M1869.75 1373.5V1421.2M1872.75 1400.8V1428.3M1875.75 1402.5V1418.6M1879.75 1405.3V1441.7M1882.75 1424.1V1445.2M1885.75 1433.1V1447.0M1888.75 1400.6V1440.9M1892.75 1403.3V1449.8M1895.75 1443.5V1488.5M1898.75 1474.0V1524.1M1902.75 1495.4V1512.0M1905.75 1456.9V1512.0M1908.75 1445.7V1489.2M1911.75 1430.2V1477.7M1915.75 1459.2V1488.2M1918.75 1464.1V1531.2M1921.75 1508.0V1534.2M1925.75 1518.1V1536.1M1928.75 1506.1V1528.3M1931.75 1474.8V1521.8M1934.75 1475.8V1497.7M1938.75 1477.4V1496.1M1941.75 1490.8V1513.0M1944.75 1481.9V1498.1M1947.75 1443.1V1489.2M1951.75 1412.4V1453.9M1954.75 1412.3V1455.9M1957.75 1411.9V1453.2M1961.75 1398.0V1429.3M1964.75 1403.8V1447.0M1967.75 1426.3V1445.8M1970.75 1411.5V1455.8M1974.75 1377.8V1450.3M1977.75 1377.8V1390.1M1980.75 1357.3V1400.3M1984.75 1347.7V1384.2M1987.75 1361.6V1410.6M1990.75 1403.4V1438.0M1993.75 1424.2V1440.0M1997.75 1373.3V1441.6M2000.75 1399.8V1451.6M2003.75 1414.4V1457.5M2007.75 1413.6V1450.1M2010.75 1408.1V1452.0M2013.75 1412.1V1495.0M2016.75 1453.4V1484.0M2020.75 1441.8V1467.2M2023.75 1420.0V1457.3M2026.75 1417.8V1429.8M2029.75 1388.5V1428.9M2033.75 1390.1V1422.0M2036.75 1404.1V1422.2M2039.75 1384.9V1424.3M2043.75 1393.7V1406.5M2046.75 1375.3V1413.4M2049.75 1390.4V1407.8M2052.75 1389.1V1460.0M2056.75 1442.6V1480.0M2059.75 1457.7V1509.0M2062.75 1495.6V1542.7M2066.75 1533.3V1572.3M2069.75 1539.7V1575.7M2072.75 1532.8V1560.4M2075.75 1515.6V1565.9M2079.75 1545.3V1566.3M2082.75 1534.8V1627.0M2085.75 1590.6V1610.8M2088.75 1585.0V1612.5M2092.75 1572.1V1627.0M2095.75 1583.5V1605.4M2098.75 1516.8V1594.6M2102.75 1532.2V1573.9M2105.75 1528.2V1571.7M2108.75 1533.4V1544.1M2111.75 1495.8V1552.0M2115.75 1490.2V1510.9M2118.75 1481.3V1506.1M2121.75 1473.2V1529.3M2125.75 1454.6V1540.3M2128.75 1419.2V1461.5M2131.75 1438.4V1502.0M2134.75 1487.9V1520.8M2138.75 1500.6V1550.0M2141.75 1489.5V1508.4M2144.75 1481.3V1550.0M2147.75 1481.8V1491.6M2151.75 1454.9V1496.8M2154.75 1470.0V1503.2M2157.75 1446.5V1490.4M2161.75 1431.3V1476.6M2164.75 1454.2V1505.9M2167.75 1425.2V1474.3M2170.75 1411.0V1443.5M2174.75 1434.6V1446.4M2177.75 1420.1V1455.9M2180.75 1412.2V1483.5M2184.75 1466.5V1483.0M2187.75 1451.1V1482.9M2190.75 1391.1V1464.9M2193.75 1350.7V1402.2M2197.75 1314.8V1378.4M2200.75 1303.5V1326.1M2203.75 1298.9V1339.7M2207.75 1288.2V1334.0M2210.75 1285.5V1325.3M2213.75 1252.7V1322.0M2216.75 1256.7V1293.5M2220.75 1282.3V1321.7M2223.75 1257.0V1334.7M2226.75 1210.0V1272.6M2229.75 1201.8V1246.6M2233.75 1232.4V1259.7M2236.75 1224.4V1272.2M2239.75 1230.1V1285.7M2243.75 1265.4V1303.7M2246.75 1274.7V1306.4M2249.75 1286.0V1300.5M2252.75 1268.7V1305.0M2256.75 1190.8V1278.7M2259.75 1182.0V1222.5M2262.75 1201.8V1225.0M2266.75 1200.9V1217.3M2269.75 1194.4V1248.6M2272.75 1236.4V1288.7M2275.75 1223.3V1298.3M2279.75 1240.7V1281.8M2282.75 1242.9V1288.7M2285.75 1197.7V1248.5M2288.75 1198.5V1222.4M2292.75 1192.1V1222.6M2295.75 1188.8V1235.0M2298.75 1164.7V1248.8M2302.75 1133.7V1180.2M2305.75 1119.5V1155.0M2308.75 1126.3V1186.8M2311.75 1169.3V1193.9M2315.75 1187.2V1203.8M2318.75 1158.4V1200.8M2321.75 1164.7V1269.5M2325.75 1225.7V1268.1M2328.75 1224.6V1252.4M2331.75 1198.9V1256.6M2334.75 1182.8V1306.8M2338.75 1295.3V1317.1M2341.75 1298.6V1318.9M2344.75 1298.0V1361.5M2347.75 1352.2V1388.2M2351.75 1354.6V1387.6M2354.75 1340.8V1371.6M2357.75 1351.0V1365.4M2361.75 1350.9V1413.1M2364.75 1401.2V1423.6M2367.75 1363.5V1420.1M2370.75 1362.9V1440.4M2374.75 1423.7V1440.6M2377.75 1410.6V1440.4M2380.75 1425.6V1444.8M2384.75 1423.2V1468.7M2387.75 1447.1V1469.0M2390.75 1420.7V1455.0M2393.75 1426.7V1452.5M2397.75 1445.5V1467.5M2400.75 1420.6V1454.2M2403.75 1392.4V1437.3M2407.75 1409.7V1442.2M2410.75 1418.2V1440.7M2413.75 1349.9V1445.2M2416.75 1301.7V1372.4M2420.75 1305.8V1323.0M2423.75 1288.8V1338.6M2426.75 1322.2V1370.3M2429.75 1347.6V1361.0M2433.75 1353.0V1366.2M2436.75 1332.7V1365.6M2439.75 1333.0V1399.3M2443.75 1336.0V1367.4M2446.75 1308.6V1375.5M2449.75 1313.4V1331.2M2452.75 1287.6V1325.0M2456.75 1229.5V1307.3M2459.75 1215.3V1389.9M2462.75 1225.4V1380.2M2466.75 1367.8V1385.9M2469.75 1348.3V1384.3M2472.75 1308.3V1368.7M2475.75 1313.0V1336.9M2479.75 1267.7V1324.0M2482.75 1258.0V1278.8M2485.75 1266.4V1340.3M2488.75 1279.9V1325.9M2492.75 1279.6V1309.4M2495.75 1269.6V1314.5M2498.75 1230.7V1282.1M2502.75 1228.7V1246.5M2505.75 1215.9V1243.6M2508.75 1206.3V1259.1M2511.75 1241.8V1257.9M2515.75 1241.8V1310.1M2518.75 1283.3V1315.2M2521.75 1290.3V1307.8M2525.75 1290.6V1317.1M2528.75 1300.1V1321.5M2531.75 1291.3V1318.7M2534.75 1278.1V1332.1M2538.75 1290.4V1301.4M2541.75 1244.5V1296.4M2544.75 1228.7V1283.6M2547.75 1232.5V1287.4M2551.75 1224.2V1255.6M2554.75 1229.1V1255.8M2557.75 1227.6V1246.2M2561.75 1200.3V1240.9M2564.75 1199.3V1215.6M2567.75 1165.8V1211.2M2570.75 1167.1V1198.4M2574.75 1184.5V1236.9M2577.75 1188.4V1224.5M2580.75 1168.3V1210.6M2584.75 1191.5V1219.4M2587.75 1196.9V1220.9M2590.75 1196.7V1234.7M2593.75 1220.4V1256.4M2597.75 1232.6V1245.8M2600.75 1232.7V1239.3M2603.75 1222.6V1243.9M2607.75 1197.2V1267.8M2610.75 1259.7V1269.3M2613.75 1256.3V1306.0M2616.75 1267.5V1297.9M2620.75 1279.2V1288.7M2623.75 1249.2V1288.3M2626.75 1250.5V1260.1M2629.75 1197.9V1263.1M2633.75 1197.1V1226.3M2636.75 1176.6V1237.6M2639.75 1219.7V1273.8M2643.75 1250.6V1275.4M2646.75 1250.3V1322.6M2649.75 1304.8V1320.0M2652.75 1276.8V1322.8M2656.75 1276.4V1299.8M2659.75 1288.7V1310.2M2662.75 1271.2V1318.3M2666.75 1229.1V1295.2M2669.75 1203.0V1235.4M2672.75 1220.5V1234.8M2675.75 1213.3V1237.0M2679.75 1207.9V1244.6M2682.75 1194.7V1226.9M2685.75 1186.5V1228.7M2688.75 1207.4V1247.5M2692.75 1201.3V1221.7M2695.75 1203.9V1223.3M2698.75 1206.2V1241.7M2702.75 1224.7V1256.4M2705.75 1245.6V1264.2M2708.75 1219.2V1264.2M2711.75 1229.8V1279.2M2715.75 1261.9V1292.8M2718.75 1250.7V1289.3M2721.75 1228.9V1268.4M2725.75 1211.5V1246.8M2728.75 1205.1V1233.9M2731.75 1178.4V1228.7M2734.75 1175.8V1194.7M2738.75 1177.4V1247.8M2741.75 1219.1V1248.2M2744.75 1217.8V1248.0M2747.75 1190.3V1227.6M2751.75 1205.6V1264.6M2754.75 1246.4V1264.5M2757.75 1228.0V1264.8M2761.75 1232.3V1245.2M2764.75 1203.1V1252.2M2767.75 1194.1V1234.5M2770.75 1198.6V1210.3M2774.75 1174.8V1219.7M2777.75 1155.2V1192.8M2780.75 1145.4V1254.2M2784.75 1159.6V1235.8M2787.75 1220.5V1241.3M2790.75 1233.7V1292.7M2793.75 1252.6V1287.9M2797.75 1261.8V1278.1M2800.75 1254.0V1306.3M2803.75 1294.9V1390.1M2807.75 1341.7V1388.3M2810.75 1335.9V1365.1M2813.75 1338.6V1347.3M2816.75 1340.3V1358.8M2820.75 1333.8V1356.4M2823.75 1297.1V1345.5M2826.75 1299.3V1306.2M2829.75 1285.7V1353.0M2833.75 1345.0V1358.6M2836.75 1302.2V1353.6M2839.75 1300.0V1318.8M2843.75 1301.1V1316.4M2846.75 1301.3V1332.0M2849.75 1289.0V1312.1M2852.75 1298.4V1317.3M2856.75 1282.7V1318.8M2859.75 1276.2V1331.5M2862.75 1280.2V1338.2M2866.75 1291.4V1365.1M2869.75 1359.1V1392.5M2872.75 1386.4V1421.7M2875.75 1405.8V1434.1M2879.75 1407.0V1441.3M2882.75 1406.2V1436.3M2885.75 1425.8V1454.7M2888.75 1446.3V1464.6M2892.75 1442.8V1465.8M2895.75 1438.3V1470.2M2898.75 1424.6V1457.5M2902.75 1415.1V1436.9M2905.75 1411.5V1460.5M2908.75 1425.8V1451.8M2911.75 1429.6V1454.2M2915.75 1358.4V1450.4M2918.75 1361.6V1397.0M2921.75 1382.7V1405.6M2925.75 1358.2V1413.7M2928.75 1353.5V1370.0M2931.75 1288.7V1374.1M2934.75 1284.2V1304.0M2938.75 1285.6V1308.5M2941.75 1257.5V1316.1M2944.75 1256.4V1294.4M2947.75 1258.3V1294.7M2951.75 1260.6V1269.7M2954.75 1242.9V1268.9M2957.75 1237.7V1256.9M2961.75 1250.5V1274.3M2964.75 1252.5V1292.8M2967.75 1260.1V1289.3M2970.75 1263.5V1282.8M2974.75 1249.3V1284.6M2977.75 1237.7V1260.9M2980.75 1209.1V1256.1M2984.75 1194.4V1221.2M2987.75 1194.3V1217.3M2990.75 1210.4V1218.0M2993.75 1205.1V1238.7M2997.75 1228.3V1247.6M3000.75 1202.1V1237.3M3003.75 1203.0V1230.2M3007.75 1198.9V1230.8M3010.75 1185.6V1218.8M3013.75 1177.4V1218.8M3016.75 1195.9V1220.1M3020.75 1196.3V1230.7M3023.75 1192.3V1218.2M3026.75 1195.1V1209.7M3029.75 1173.3V1209.0M3033.75 1182.7V1206.9M3036.75 1170.9V1226.3M3039.75 1203.4V1212.7M3043.75 1190.0V1217.1M3046.75 1204.3V1262.2M3049.75 1228.7V1274.3M3052.75 1234.3V1257.3M3056.75 1247.7V1254.7M3059.75 1237.6V1287.4M3062.75 1277.1V1297.9M3066.75 1255.8V1294.6M3069.75 1250.4V1276.2M3072.75 1254.4V1274.5M3075.75 1179.9V1266.8M3079.75 1187.1V1194.6M3082.75 1183.8V1211.9M3085.75 1189.7V1209.1M3088.75 1168.3V1203.7M3092.75 1166.9V1211.8M3095.75 1200.6V1233.6M3098.75 1220.6V1240.6M3102.75 1225.0V1238.9M3105.75 1223.5V1250.8M3108.75 1196.8V1251.8M3111.75 1204.0V1227.1M3115.75 1207.7V1233.9M3118.75 1212.8V1243.4M3121.75 1235.8V1274.0M3125.75 1254.9V1264.4M3128.75 1254.8V1279.3M3131.75 1269.2V1279.4M3134.75 1266.4V1307.3M3138.75 1292.0V1306.2M3141.75 1281.0V1310.8M3144.75 1255.3V1303.6M3147.75 1253.9V1271.1M3151.75 1236.0V1274.1M3154.75 1231.6V1270.5M3157.75 1257.4V1301.9M3161.75 1273.5V1297.3M3164.75 1255.1V1284.3M3167.75 1245.5V1276.0M3170.75 1255.1V1289.1M3174.75 1274.0V1308.1M3177.75 1295.6V1323.8M3180.75 1305.0V1319.3M3184.75 1275.1V1318.3M3187.75 1264.0V1286.7M3190.75 1262.4V1293.9M3193.75 1274.7V1342.1M3197.75 1332.7V1348.1M3200.75 1337.4V1351.6M3203.75 1343.2V1377.5M3207.75 1343.7V1383.7M3210.75 1354.9V1376.2M3213.75 1340.8V1361.4M3216.75 1318.5V1369.5M3220.75 1332.2V1344.7M3223.75 1314.4V1344.3M3226.75 1322.6V1351.3M3229.75 1302.9V1338.1M3233.75 1300.6V1319.1M3236.75 1282.6V1322.5M3239.75 1279.8V1320.5M3243.75 1279.4V1330.7M3246.75 1314.3V1325.2M3249.75 1300.5V1344.7M3252.75 1307.5V1332.3M3256.75 1303.2V1319.4M3259.75 1307.5V1358.3M3262.75 1326.4V1362.2M3266.75 1298.0V1335.2M3269.75 1271.6V1311.8M3272.75 1252.2V1298.0M3275.75 1257.7V1287.0M3279.75 1255.9V1276.8M3282.75 1265.8V1283.8M3285.75 1263.0V1283.9M3288.75 1224.3V1290.3M3292.75 1242.9V1258.4M3295.75 1227.1V1260.2M3298.75 1215.8V1248.0M3302.75 1239.3V1263.1M3305.75 1251.5V1274.6M3308.75 1248.8V1279.3M3311.75 1268.5V1279.9M3315.75 1246.3V1277.0M3318.75 1249.0V1256.3M3321.75 1218.7V1257.4M3325.75 1198.2V1227.0M3328.75 1187.2V1209.6M3331.75 1187.3V1248.9M3334.75 1233.4V1252.4M3338.75 1240.1V1259.4M3341.75 1243.1V1257.5M3344.75 1234.8V1256.5M3347.75 1236.3V1246.8M3351.75 1221.8V1247.5M3354.75 1200.6V1233.2M3357.75 1177.9V1210.7M3361.75 1115.0V1184.1M3364.75 1122.2V1149.5M3367.75 1083.9V1161.1M3370.75 1065.3V1099.6M3374.75 1049.8V1072.6M3377.75 1053.9V1108.8M3380.75 1084.4V1094.7M3384.75 1077.0V1099.9M3387.75 1041.1V1105.9M3390.75 1011.1V1072.7M3393.75 1057.3V1067.0M3397.75 1040.8V1069.7M3400.75 1023.4V1074.5M3403.75 1047.7V1070.2M3407.75 1052.9V1082.3M3410.75 1060.7V1087.4M3413.75 1069.5V1098.0M3416.75 1070.7V1092.5M3420.75 1074.6V1101.6M3423.75 1088.1V1114.4M3426.75 1095.3V1124.8M3429.75 1094.4V1124.7M3433.75 1107.4V1139.8M3436.75 1074.8V1138.7M3439.75 1062.2V1107.8M3443.75 1071.9V1106.2M3446.75 1070.6V1089.2M3449.75 1070.6V1092.8M3452.75 1076.4V1105.0M3456.75 1084.6V1110.9M3459.75 1077.7V1098.0M3462.75 1061.5V1088.7M3466.75 1057.1V1074.5M3469.75 1048.2V1097.0M3472.75 1058.0V1110.1M3475.75 1042.6V1075.3M3479.75 1054.9V1094.2M3482.75 1070.7V1079.6M3485.75 1040.8V1079.4M3488.75 1027.8V1059.6M3492.75 982.2V1063.7M3495.75 1004.3V1019.0M3498.75 1001.7V1041.1M3502.75 1030.9V1060.9M3505.75 1039.2V1071.1M3508.75 1034.9V1052.1M3511.75 1042.0V1069.8M3515.75 1033.3V1072.0M3518.75 994.6V1054.0M3521.75 1011.2V1084.2M3525.75 1058.9V1086.2M3528.75 1046.7V1081.9M3531.75 1070.2V1114.5M3534.75 1098.5V1124.5M3538.75 1097.8V1144.2M3541.75 1109.2V1130.3M3544.75 1111.2V1141.0M3547.75 1112.5V1151.2M3551.75 1107.4V1130.9M3554.75 1110.9V1151.5M3557.75 1139.3V1176.7M3561.75 1142.5V1175.4M3564.75 1159.5V1179.9M3567.75 1150.5V1185.8M3570.75 1126.3V1157.9M3574.75 1095.1V1146.6M3577.75 1096.1V1111.3M3580.75 1099.6V1126.2M3584.75 1107.8V1130.3M3587.75 1095.6V1125.0M3590.75 1098.1V1143.5M3593.75 1126.4V1149.9M3597.75 1134.4V1174.9M3600.75 1149.4V1196.2M3603.75 1187.8V1217.1M3607.75 1194.6V1231.2M3610.75 1197.8V1209.0M3613.75 1194.1V1223.8M3616.75 1197.5V1218.8" stroke="#5c5c5f" stroke-width="1.15" fill="none"/>
<path d="M11.0 485.3V494.8M14.0 479.1V486.5M17.0 459.7V480.3M30.0 536.9V564.9M34.0 532.7V538.1M53.0 561.6V600.0M57.0 518.3V562.8M60.0 466.7V519.5M67.0 456.4V474.1M70.0 437.9V457.6M73.0 396.6V439.1M76.0 386.3V397.8M86.0 392.5V430.8M89.0 373.9V393.7M93.0 292.2V375.1M103.0 336.8V371.0M122.0 352.5V395.7M132.0 334.7V355.3M139.0 330.6V338.0M145.0 326.5V331.8M148.0 318.2V327.7M152.0 307.9V319.4M155.0 290.6V309.1M158.0 277.0V291.8M162.0 235.7V278.2M165.0 215.1V236.9M171.0 199.4V226.6M201.0 297.6V333.9M204.0 295.5V298.8M207.0 289.4V296.7M224.0 371.9V401.9M230.0 365.7V395.7M234.0 363.6V366.9M237.0 334.7V364.8M260.0 495.6V511.3M267.0 493.6V496.8M270.0 481.2V494.8M276.0 518.3V536.0M280.0 498.5V519.5M283.0 487.4V499.7M286.0 476.2V488.6M296.0 569.9V581.4M299.0 567.8V571.1M309.0 616.6V619.9M312.0 589.8V617.8M316.0 583.6V591.0M332.0 604.2V615.7M335.0 591.9V605.4M345.0 577.4V609.6M348.0 567.1V578.6M365.0 523.8V603.4M385.0 645.5V665.3M388.0 624.9V646.7M398.0 680.6V706.5M401.0 662.0V681.8M407.0 651.7V679.7M417.0 587.7V673.5M424.0 571.2V595.1M434.0 532.0V576.6M444.0 534.1V560.1M447.0 524.6V535.3M463.0 532.0V560.1M483.0 579.5V595.1M486.0 556.8V580.7M489.0 507.3V558.0M506.0 556.8V562.1M509.0 536.2V558.0M512.0 507.3V537.4M516.0 486.7V508.5M526.0 510.6V533.2M529.0 484.9V511.8M532.0 468.4V486.1M535.0 439.6V469.6M539.0 420.6V440.8M545.0 419.8V428.4M558.0 404.9V436.6M565.0 370.3V416.8M568.0 357.1V371.5M571.0 345.2V358.3M578.0 340.9V355.0M585.0 367.0V371.5M591.0 386.8V389.6M598.0 367.8V389.3M608.0 414.8V419.3M614.0 417.3V423.4M617.0 408.2V418.5M630.0 376.9V415.2M637.0 365.3V389.6M647.0 371.1V373.5M650.0 363.3V372.3M657.0 370.3V373.9M667.0 425.5V430.9M676.0 434.5V441.9M680.0 424.2V435.7M686.0 397.4V433.7M689.0 395.4V398.6M699.0 411.9V429.6M703.0 380.9V413.1M709.0 374.7V384.2M712.0 364.4V375.9M716.0 362.4V365.6M719.0 339.7V363.6M732.0 350.0V386.2M742.0 341.7V355.3M748.0 347.9V367.7M752.0 345.9V349.1M755.0 343.0V347.1M758.0 335.5V344.2M762.0 305.8V336.7M775.0 366.5V380.1M778.0 364.4V367.7M781.0 345.9V365.6M808.0 358.2V375.9M814.0 324.0V365.6M824.0 350.0V353.2M840.0 385.0V406.9M847.0 374.7V402.7M863.0 401.5V421.3M867.0 393.3V402.7M870.0 392.5V394.9M876.0 391.2V394.5M886.0 401.5V406.9M889.0 395.4V402.7M896.0 385.0V402.7M899.0 374.7V386.2M916.0 378.9V415.1M919.0 362.4V380.1M942.0 504.7V540.9M948.0 556.2V569.8M962.0 611.0V628.7M965.0 608.1V612.2M978.0 677.0V690.6M985.0 648.1V680.2M991.0 641.9V713.2M994.0 631.6V643.1M1004.0 664.6V707.1M1011.0 635.7V692.6M1024.0 658.4V676.1M1037.0 648.1V668.7M1040.0 622.1V649.3M1047.0 633.7V651.4M1060.0 681.1V708.3M1067.0 732.7V766.9M1073.0 707.1V738.0M1076.0 689.4V708.3M1080.0 688.1V690.6M1083.0 675.7V689.3M1086.0 671.6V676.9M1093.0 690.6V694.7M1099.0 715.3V740.1M1109.0 776.0V783.4M1142.0 888.6V900.9M1162.0 964.5V984.7M1178.0 990.5V993.8M1181.0 988.4V991.7M1185.0 980.2V989.6M1188.0 954.6V981.4M1194.0 957.5V962.8M1198.0 956.3V958.7M1204.0 1004.1V1008.2M1211.0 984.3V1008.2M1214.0 945.1V985.5M1221.0 965.8V969.0M1227.0 938.1V971.1M1230.0 932.7V939.3M1253.0 1077.4V1101.3M1263.0 1162.0V1165.3M1270.0 1143.4V1179.7M1276.0 1145.5V1169.4M1283.0 1143.4V1148.8M1296.0 1176.4V1187.9M1299.0 1159.9V1177.6M1303.0 1136.0V1161.1M1312.0 1123.6V1148.8M1316.0 1122.8V1125.2M1322.0 1102.2V1144.6M1332.0 1126.9V1146.7M1339.0 1136.0V1161.1M1358.0 1189.6V1247.8M1371.0 1157.9V1235.4M1378.0 1156.6V1220.9M1381.0 1104.2V1157.8M1411.0 1229.2V1247.8M1417.0 1228.0V1249.8M1424.0 1199.1V1229.2M1434.0 1230.1V1248.6M1440.0 1143.4V1231.3M1447.0 1131.1V1157.0M1457.0 1166.1V1190.0M1460.0 1156.6V1167.3M1463.0 1116.6V1157.8M1467.0 1034.1V1117.8M1483.0 1075.4V1128.1M1486.0 1060.9V1076.6M1499.0 1058.9V1099.2M1503.0 988.7V1060.1M1522.0 1098.0V1109.6M1548.0 1151.0V1241.6M1565.0 1194.3V1236.7M1568.0 1163.3V1195.5M1578.0 1162.1V1179.0M1588.0 1145.6V1170.7M1604.0 1175.7V1191.4M1614.0 1191.0V1231.8M1637.0 1320.1V1328.3M1647.0 1318.0V1339.9M1657.0 1342.8V1353.1M1663.0 1335.4V1358.4M1680.0 1373.7V1407.9M1693.0 1392.3V1397.6M1696.0 1354.4V1393.5M1706.0 1334.5V1369.6M1716.0 1355.2V1391.4M1726.0 1357.2V1361.3M1732.0 1369.6V1372.1M1752.0 1458.3V1481.0M1755.0 1455.0V1459.5M1765.0 1522.3V1531.7M1775.0 1580.0V1587.4M1778.0 1577.9V1581.2M1781.0 1532.6V1579.1M1788.0 1498.7V1535.8M1791.0 1472.7V1499.9M1794.0 1471.5V1473.9M1798.0 1443.9V1472.7M1808.0 1445.9V1456.2M1817.0 1530.5V1540.0M1830.0 1530.5V1550.3M1834.0 1528.4V1531.7M1837.0 1518.1V1529.6M1840.0 1498.5V1519.3M1847.0 1438.7V1499.7M1850.0 1413.1V1439.9M1853.0 1374.7V1414.3M1857.0 1361.1V1375.9M1867.0 1377.6V1421.3M1876.0 1411.9V1415.1M1886.0 1436.6V1439.0M1889.0 1418.0V1437.8M1906.0 1471.7V1507.9M1909.0 1449.0V1472.9M1926.0 1523.2V1526.5M1929.0 1512.9V1524.4M1932.0 1477.9V1514.1M1945.0 1486.1V1495.6M1948.0 1444.9V1487.3M1952.0 1421.3V1446.1M1958.0 1413.9V1446.1M1968.0 1428.4V1431.6M1975.0 1380.1V1447.3M1981.0 1370.6V1388.3M1985.0 1369.4V1371.8M1998.0 1401.5V1436.6M2004.0 1418.0V1448.1M2011.0 1425.5V1446.1M2017.0 1455.2V1479.1M2021.0 1446.9V1456.4M2024.0 1424.2V1448.1M2030.0 1402.4V1426.7M2037.0 1405.7V1419.2M2040.0 1395.4V1406.9M2050.0 1393.3V1401.9M2070.0 1541.8V1564.5M2080.0 1550.1V1561.6M2089.0 1588.0V1609.0M2099.0 1538.5V1589.2M2106.0 1538.5V1563.6M2109.0 1537.7V1540.1M2112.0 1498.5V1538.9M2119.0 1484.1V1500.9M2126.0 1457.0V1522.4M2129.0 1441.3V1458.2M2139.0 1503.2V1507.7M2142.0 1492.9V1504.4M2145.0 1487.5V1494.1M2148.0 1485.9V1488.7M2152.0 1472.3V1487.1M2158.0 1448.7V1485.8M2168.0 1428.1V1466.4M2178.0 1424.8V1444.6M2185.0 1474.3V1477.6M2188.0 1453.7V1475.5M2191.0 1395.9V1454.9M2194.0 1367.1V1397.1M2198.0 1321.7V1368.3M2201.0 1308.5V1322.9M2208.0 1299.0V1324.9M2214.0 1260.6V1316.7M2224.0 1268.0V1316.7M2227.0 1217.7V1269.2M2237.0 1233.0V1254.8M2253.0 1271.3V1294.0M2257.0 1208.2V1272.5M2263.0 1208.2V1215.6M2267.0 1207.0V1209.4M2276.0 1245.4V1271.3M2283.0 1245.4V1271.3M2286.0 1202.0V1246.6M2293.0 1193.8V1217.7M2299.0 1169.0V1225.9M2303.0 1136.9V1170.2M2319.0 1170.3V1192.9M2326.0 1228.9V1250.7M2332.0 1211.1V1244.5M2342.0 1311.4V1314.6M2352.0 1359.6V1384.8M2358.0 1354.7V1362.1M2368.0 1380.3V1415.7M2391.0 1428.9V1451.6M2401.0 1424.8V1451.6M2404.0 1412.4V1426.0M2414.0 1358.3V1429.6M2417.0 1312.9V1359.5M2421.0 1308.8V1314.1M2437.0 1338.5V1363.6M2447.0 1315.0V1361.6M2453.0 1293.1V1318.3M2457.0 1237.8V1294.3M2467.0 1375.6V1378.1M2470.0 1350.1V1376.8M2473.0 1317.1V1351.3M2480.0 1273.7V1318.3M2489.0 1284.1V1312.1M2496.0 1275.8V1303.8M2499.0 1233.7V1277.0M2506.0 1228.4V1239.9M2512.0 1247.7V1254.3M2522.0 1294.4V1303.8M2529.0 1308.0V1310.4M2532.0 1293.1V1309.2M2539.0 1292.3V1297.6M2542.0 1246.1V1293.5M2548.0 1240.7V1276.2M2555.0 1236.6V1248.1M2562.0 1209.0V1237.8M2565.0 1207.7V1210.2M2568.0 1193.3V1208.9M2578.0 1196.6V1220.1M2588.0 1200.7V1215.9M2598.0 1234.5V1239.0M2604.0 1234.5V1236.9M2617.0 1284.9V1288.6M2621.0 1284.1V1286.5M2624.0 1257.2V1285.3M2627.0 1253.1V1258.4M2630.0 1199.5V1254.3M2644.0 1260.1V1272.1M2653.0 1286.1V1309.2M2663.0 1276.6V1300.9M2667.0 1232.5V1277.8M2670.0 1222.2V1233.7M2680.0 1211.9V1234.9M2683.0 1197.4V1213.1M2689.0 1211.9V1226.7M2693.0 1206.5V1213.1M2709.0 1236.6V1253.1M2716.0 1263.9V1275.4M2719.0 1259.8V1265.1M2722.0 1233.0V1261.0M2726.0 1228.9V1234.2M2729.0 1212.4V1230.1M2732.0 1183.5V1213.6M2745.0 1219.4V1244.5M2748.0 1217.7V1220.6M2758.0 1240.0V1250.7M2762.0 1239.2V1241.6M2765.0 1216.5V1240.4M2768.0 1202.9V1217.7M2775.0 1181.4V1208.2M2778.0 1162.8V1182.6M2794.0 1263.9V1282.4M2808.0 1356.7V1374.4M2811.0 1341.5V1357.9M2821.0 1338.2V1349.7M2824.0 1301.9V1339.4M2837.0 1313.4V1350.9M2840.0 1307.2V1314.6M2847.0 1303.1V1314.6M2857.0 1293.6V1313.8M2863.0 1294.9V1320.8M2876.0 1412.4V1419.8M2893.0 1446.3V1459.0M2899.0 1433.1V1452.8M2903.0 1431.0V1434.3M2906.0 1428.9V1432.2M2912.0 1433.1V1449.9M2916.0 1374.5V1434.3M2926.0 1366.2V1396.3M2929.0 1355.5V1367.4M2932.0 1299.0V1356.7M2935.0 1292.8V1300.2M2942.0 1259.8V1298.1M2948.0 1263.9V1291.9M2955.0 1251.5V1267.2M2971.0 1266.0V1277.5M2975.0 1251.5V1267.2M2978.0 1250.7V1253.1M2981.0 1214.4V1251.9M2985.0 1202.0V1215.6M3001.0 1205.7V1232.4M3008.0 1211.9V1226.7M3011.0 1188.3V1213.1M3017.0 1198.2V1202.7M3024.0 1200.7V1215.1M3030.0 1187.1V1206.0M3040.0 1205.7V1208.9M3050.0 1246.1V1258.4M3057.0 1250.2V1253.1M3067.0 1272.5V1291.4M3070.0 1257.2V1273.7M3076.0 1189.2V1263.8M3086.0 1193.3V1206.0M3089.0 1178.9V1194.5M3109.0 1209.8V1237.8M3126.0 1259.3V1261.7M3142.0 1293.1V1296.8M3145.0 1259.3V1294.3M3148.0 1258.5V1260.9M3152.0 1249.0V1259.7M3162.0 1279.9V1295.6M3165.0 1272.5V1281.1M3168.0 1258.5V1273.7M3185.0 1282.0V1312.1M3191.0 1276.6V1284.4M3211.0 1357.5V1369.8M3214.0 1350.9V1358.7M3217.0 1338.5V1352.1M3221.0 1336.9V1339.7M3224.0 1327.4V1338.1M3230.0 1313.8V1333.9M3234.0 1303.9V1315.0M3237.0 1302.6V1305.1M3240.0 1291.5V1303.8M3253.0 1310.9V1327.3M3263.0 1331.5V1356.2M3267.0 1299.7V1332.7M3270.0 1289.0V1300.9M3273.0 1269.6V1290.2M3286.0 1271.7V1280.3M3289.0 1250.6V1272.9M3296.0 1233.2V1255.1M3316.0 1252.6V1274.4M3319.0 1251.4V1253.8M3322.0 1222.5V1252.6M3326.0 1201.9V1223.7M3329.0 1200.2V1203.1M3345.0 1242.3V1250.9M3348.0 1240.2V1243.5M3352.0 1225.0V1241.4M3355.0 1205.2V1226.2M3358.0 1179.6V1206.4M3362.0 1128.9V1180.8M3368.0 1087.6V1143.7M3371.0 1069.0V1088.8M3375.0 1068.2V1070.6M3385.0 1082.2V1090.0M3388.0 1043.5V1083.4M3394.0 1060.0V1062.8M3398.0 1045.1V1061.2M3427.0 1101.2V1107.4M3437.0 1082.2V1134.2M3444.0 1081.4V1102.4M3447.0 1075.2V1082.6M3460.0 1080.6V1094.2M3463.0 1064.1V1081.8M3473.0 1071.1V1092.9M3476.0 1060.0V1072.3M3483.0 1072.3V1077.7M3486.0 1047.6V1073.5M3489.0 1045.1V1048.8M3493.0 1011.3V1046.3M3496.0 1010.5V1012.9M3506.0 1043.5V1053.7M3516.0 1038.1V1065.3M3519.0 1028.6V1039.3M3526.0 1064.1V1078.5M3539.0 1115.2V1120.6M3548.0 1124.7V1132.1M3552.0 1113.6V1125.9M3558.0 1145.4V1147.8M3565.0 1167.2V1172.5M3568.0 1154.8V1168.4M3571.0 1134.2V1156.0M3575.0 1100.0V1135.4M3585.0 1120.9V1123.3M3588.0 1104.0V1122.1M3608.0 1205.0V1214.5M3611.0 1200.1V1206.2M3617.0 1205.0V1215.3" stroke="#1c5a28" stroke-width="3.9" fill="none"/><path d="M11.0 486.3V493.8M14.0 480.1V485.5M17.0 460.7V479.3M30.0 537.9V563.9M34.0 533.7V537.1M53.0 562.6V599.0M57.0 519.3V561.8M60.0 467.7V518.5M67.0 457.4V473.1M70.0 438.9V456.6M73.0 397.6V438.1M76.0 387.3V396.8M86.0 393.5V429.8M89.0 374.9V392.7M93.0 293.2V374.1M103.0 337.8V370.0M122.0 353.5V394.7M132.0 335.7V354.3M139.0 331.6V337.0M145.0 327.5V330.8M148.0 319.2V326.7M152.0 308.9V318.4M155.0 291.6V308.1M158.0 278.0V290.8M162.0 236.7V277.2M165.0 216.1V235.9M171.0 200.4V225.6M201.0 298.6V332.9M204.0 296.5V297.8M207.0 290.4V295.7M224.0 372.9V400.9M230.0 366.7V394.7M234.0 364.6V365.9M237.0 335.7V363.8M260.0 496.6V510.3M267.0 494.6V495.8M270.0 482.2V493.8M276.0 519.3V535.0M280.0 499.5V518.5M283.0 488.4V498.7M286.0 477.2V487.6M296.0 570.9V580.4M299.0 568.8V570.1M309.0 617.6V618.9M312.0 590.8V616.8M316.0 584.6V590.0M332.0 605.2V614.7M335.0 592.9V604.4M345.0 578.4V608.6M348.0 568.1V577.6M365.0 524.8V602.4M385.0 646.5V664.3M388.0 625.9V645.7M398.0 681.6V705.5M401.0 663.0V680.8M407.0 652.7V678.7M417.0 588.7V672.5M424.0 572.2V594.1M434.0 533.0V575.6M444.0 535.1V559.1M447.0 525.6V534.3M463.0 533.0V559.1M483.0 580.5V594.1M486.0 557.8V579.7M489.0 508.3V557.0M506.0 557.8V561.1M509.0 537.2V557.0M512.0 508.3V536.4M516.0 487.7V507.5M526.0 511.6V532.2M529.0 485.9V510.8M532.0 469.4V485.1M535.0 440.6V468.6M539.0 421.6V439.8M545.0 420.8V427.4M558.0 405.9V435.6M565.0 371.3V415.8M568.0 358.1V370.5M571.0 346.2V357.3M578.0 341.9V354.0M585.0 368.0V370.5M591.0 387.8V388.6M598.0 368.8V388.3M608.0 415.8V418.3M614.0 418.3V422.4M617.0 409.2V417.5M630.0 377.9V414.2M637.0 366.3V388.6M647.0 372.1V372.5M650.0 364.3V371.3M657.0 371.3V372.9M667.0 426.5V429.9M676.0 435.5V440.9M680.0 425.2V434.7M686.0 398.4V432.7M689.0 396.4V397.6M699.0 412.9V428.6M703.0 381.9V412.1M709.0 375.7V383.2M712.0 365.4V374.9M716.0 363.4V364.6M719.0 340.7V362.6M732.0 351.0V385.2M742.0 342.7V354.3M748.0 348.9V366.7M752.0 346.9V348.1M755.0 344.0V346.1M758.0 336.5V343.2M762.0 306.8V335.7M775.0 367.5V379.1M778.0 365.4V366.7M781.0 346.9V364.6M808.0 359.2V374.9M814.0 325.0V364.6M824.0 351.0V352.2M840.0 386.0V405.9M847.0 375.7V401.7M863.0 402.5V420.3M867.0 394.3V401.7M870.0 393.5V393.9M876.0 392.2V393.5M886.0 402.5V405.9M889.0 396.4V401.7M896.0 386.0V401.7M899.0 375.7V385.2M916.0 379.9V414.1M919.0 363.4V379.1M942.0 505.7V539.9M948.0 557.2V568.8M962.0 612.0V627.7M965.0 609.1V611.2M978.0 678.0V689.6M985.0 649.1V679.2M991.0 642.9V712.2M994.0 632.6V642.1M1004.0 665.6V706.1M1011.0 636.7V691.6M1024.0 659.4V675.1M1037.0 649.1V667.7M1040.0 623.1V648.3M1047.0 634.7V650.4M1060.0 682.1V707.3M1067.0 733.7V765.9M1073.0 708.1V737.0M1076.0 690.4V707.3M1080.0 689.1V689.6M1083.0 676.7V688.3M1086.0 672.6V675.9M1093.0 691.6V693.7M1099.0 716.3V739.1M1109.0 777.0V782.4M1142.0 889.6V899.9M1162.0 965.5V983.7M1178.0 991.5V992.8M1181.0 989.4V990.7M1185.0 981.2V988.6M1188.0 955.6V980.4M1194.0 958.5V961.8M1198.0 957.3V957.7M1204.0 1005.1V1007.2M1211.0 985.3V1007.2M1214.0 946.1V984.5M1221.0 966.8V968.0M1227.0 939.1V970.1M1230.0 933.7V938.3M1253.0 1078.4V1100.3M1263.0 1163.0V1164.3M1270.0 1144.4V1178.7M1276.0 1146.5V1168.4M1283.0 1144.4V1147.8M1296.0 1177.4V1186.9M1299.0 1160.9V1176.6M1303.0 1137.0V1160.1M1312.0 1124.6V1147.8M1316.0 1123.8V1124.2M1322.0 1103.2V1143.6M1332.0 1127.9V1145.7M1339.0 1137.0V1160.1M1358.0 1190.6V1246.8M1371.0 1158.9V1234.4M1378.0 1157.6V1219.9M1381.0 1105.2V1156.8M1411.0 1230.2V1246.8M1417.0 1229.0V1248.8M1424.0 1200.1V1228.2M1434.0 1231.1V1247.6M1440.0 1144.4V1230.3M1447.0 1132.1V1156.0M1457.0 1167.1V1189.0M1460.0 1157.6V1166.3M1463.0 1117.6V1156.8M1467.0 1035.1V1116.8M1483.0 1076.4V1127.1M1486.0 1061.9V1075.6M1499.0 1059.9V1098.2M1503.0 989.7V1059.1M1522.0 1099.0V1108.6M1548.0 1152.0V1240.6M1565.0 1195.3V1235.7M1568.0 1164.3V1194.5M1578.0 1163.1V1178.0M1588.0 1146.6V1169.7M1604.0 1176.7V1190.4M1614.0 1192.0V1230.8M1637.0 1321.1V1327.3M1647.0 1319.0V1338.9M1657.0 1343.8V1352.1M1663.0 1336.4V1357.4M1680.0 1374.7V1406.9M1693.0 1393.3V1396.6M1696.0 1355.4V1392.5M1706.0 1335.5V1368.6M1716.0 1356.2V1390.4M1726.0 1358.2V1360.3M1732.0 1370.6V1371.1M1752.0 1459.3V1480.0M1755.0 1456.0V1458.5M1765.0 1523.3V1530.7M1775.0 1581.0V1586.4M1778.0 1578.9V1580.2M1781.0 1533.6V1578.1M1788.0 1499.7V1534.8M1791.0 1473.7V1498.9M1794.0 1472.5V1472.9M1798.0 1444.9V1471.7M1808.0 1446.9V1455.2M1817.0 1531.5V1539.0M1830.0 1531.5V1549.3M1834.0 1529.4V1530.7M1837.0 1519.1V1528.6M1840.0 1499.5V1518.3M1847.0 1439.7V1498.7M1850.0 1414.1V1438.9M1853.0 1375.7V1413.3M1857.0 1362.1V1374.9M1867.0 1378.6V1420.3M1876.0 1412.9V1414.1M1886.0 1437.6V1438.0M1889.0 1419.0V1436.8M1906.0 1472.7V1506.9M1909.0 1450.0V1471.9M1926.0 1524.2V1525.5M1929.0 1513.9V1523.4M1932.0 1478.9V1513.1M1945.0 1487.1V1494.6M1948.0 1445.9V1486.3M1952.0 1422.3V1445.1M1958.0 1414.9V1445.1M1968.0 1429.4V1430.6M1975.0 1381.1V1446.3M1981.0 1371.6V1387.3M1985.0 1370.4V1370.8M1998.0 1402.5V1435.6M2004.0 1419.0V1447.1M2011.0 1426.5V1445.1M2017.0 1456.2V1478.1M2021.0 1447.9V1455.4M2024.0 1425.2V1447.1M2030.0 1403.4V1425.7M2037.0 1406.7V1418.2M2040.0 1396.4V1405.9M2050.0 1394.3V1400.9M2070.0 1542.8V1563.5M2080.0 1551.1V1560.6M2089.0 1589.0V1608.0M2099.0 1539.5V1588.2M2106.0 1539.5V1562.6M2109.0 1538.7V1539.1M2112.0 1499.5V1537.9M2119.0 1485.1V1499.9M2126.0 1458.0V1521.4M2129.0 1442.3V1457.2M2139.0 1504.2V1506.7M2142.0 1493.9V1503.4M2145.0 1488.5V1493.1M2148.0 1486.9V1487.7M2152.0 1473.3V1486.1M2158.0 1449.7V1484.8M2168.0 1429.1V1465.4M2178.0 1425.8V1443.6M2185.0 1475.3V1476.6M2188.0 1454.7V1474.5M2191.0 1396.9V1453.9M2194.0 1368.1V1396.1M2198.0 1322.7V1367.3M2201.0 1309.5V1321.9M2208.0 1300.0V1323.9M2214.0 1261.6V1315.7M2224.0 1269.0V1315.7M2227.0 1218.7V1268.2M2237.0 1234.0V1253.8M2253.0 1272.3V1293.0M2257.0 1209.2V1271.5M2263.0 1209.2V1214.6M2267.0 1208.0V1208.4M2276.0 1246.4V1270.3M2283.0 1246.4V1270.3M2286.0 1203.0V1245.6M2293.0 1194.8V1216.7M2299.0 1170.0V1224.9M2303.0 1137.9V1169.2M2319.0 1171.3V1191.9M2326.0 1229.9V1249.7M2332.0 1212.1V1243.5M2342.0 1312.4V1313.6M2352.0 1360.6V1383.8M2358.0 1355.7V1361.1M2368.0 1381.3V1414.7M2391.0 1429.9V1450.6M2401.0 1425.8V1450.6M2404.0 1413.4V1425.0M2414.0 1359.3V1428.6M2417.0 1313.9V1358.5M2421.0 1309.8V1313.1M2437.0 1339.5V1362.6M2447.0 1316.0V1360.6M2453.0 1294.1V1317.3M2457.0 1238.8V1293.3M2467.0 1376.6V1377.1M2470.0 1351.1V1375.8M2473.0 1318.1V1350.3M2480.0 1274.7V1317.3M2489.0 1285.1V1311.1M2496.0 1276.8V1302.8M2499.0 1234.7V1276.0M2506.0 1229.4V1238.9M2512.0 1248.7V1253.3M2522.0 1295.4V1302.8M2529.0 1309.0V1309.4M2532.0 1294.1V1308.2M2539.0 1293.3V1296.6M2542.0 1247.1V1292.5M2548.0 1241.7V1275.2M2555.0 1237.6V1247.1M2562.0 1210.0V1236.8M2565.0 1208.7V1209.2M2568.0 1194.3V1207.9M2578.0 1197.6V1219.1M2588.0 1201.7V1214.9M2598.0 1235.5V1238.0M2604.0 1235.5V1235.9M2617.0 1285.9V1287.6M2621.0 1285.1V1285.5M2624.0 1258.2V1284.3M2627.0 1254.1V1257.4M2630.0 1200.5V1253.3M2644.0 1261.1V1271.1M2653.0 1287.1V1308.2M2663.0 1277.6V1299.9M2667.0 1233.5V1276.8M2670.0 1223.2V1232.7M2680.0 1212.9V1233.9M2683.0 1198.4V1212.1M2689.0 1212.9V1225.7M2693.0 1207.5V1212.1M2709.0 1237.6V1252.1M2716.0 1264.9V1274.4M2719.0 1260.8V1264.1M2722.0 1234.0V1260.0M2726.0 1229.9V1233.2M2729.0 1213.4V1229.1M2732.0 1184.5V1212.6M2745.0 1220.4V1243.5M2748.0 1218.7V1219.6M2758.0 1241.0V1249.7M2762.0 1240.2V1240.6M2765.0 1217.5V1239.4M2768.0 1203.9V1216.7M2775.0 1182.4V1207.2M2778.0 1163.8V1181.6M2794.0 1264.9V1281.4M2808.0 1357.7V1373.4M2811.0 1342.5V1356.9M2821.0 1339.2V1348.7M2824.0 1302.9V1338.4M2837.0 1314.4V1349.9M2840.0 1308.2V1313.6M2847.0 1304.1V1313.6M2857.0 1294.6V1312.8M2863.0 1295.9V1319.8M2876.0 1413.4V1418.8M2893.0 1447.3V1458.0M2899.0 1434.1V1451.8M2903.0 1432.0V1433.3M2906.0 1429.9V1431.2M2912.0 1434.1V1448.9M2916.0 1375.5V1433.3M2926.0 1367.2V1395.3M2929.0 1356.5V1366.4M2932.0 1300.0V1355.7M2935.0 1293.8V1299.2M2942.0 1260.8V1297.1M2948.0 1264.9V1290.9M2955.0 1252.5V1266.2M2971.0 1267.0V1276.5M2975.0 1252.5V1266.2M2978.0 1251.7V1252.1M2981.0 1215.4V1250.9M2985.0 1203.0V1214.6M3001.0 1206.7V1231.4M3008.0 1212.9V1225.7M3011.0 1189.3V1212.1M3017.0 1199.2V1201.7M3024.0 1201.7V1214.1M3030.0 1188.1V1205.0M3040.0 1206.7V1207.9M3050.0 1247.1V1257.4M3057.0 1251.2V1252.1M3067.0 1273.5V1290.4M3070.0 1258.2V1272.7M3076.0 1190.2V1262.8M3086.0 1194.3V1205.0M3089.0 1179.9V1193.5M3109.0 1210.8V1236.8M3126.0 1260.3V1260.7M3142.0 1294.1V1295.8M3145.0 1260.3V1293.3M3148.0 1259.5V1259.9M3152.0 1250.0V1258.7M3162.0 1280.9V1294.6M3165.0 1273.5V1280.1M3168.0 1259.5V1272.7M3185.0 1283.0V1311.1M3191.0 1277.6V1283.4M3211.0 1358.5V1368.8M3214.0 1351.9V1357.7M3217.0 1339.5V1351.1M3221.0 1337.9V1338.7M3224.0 1328.4V1337.1M3230.0 1314.8V1332.9M3234.0 1304.9V1314.0M3237.0 1303.6V1304.1M3240.0 1292.5V1302.8M3253.0 1311.9V1326.3M3263.0 1332.5V1355.2M3267.0 1300.7V1331.7M3270.0 1290.0V1299.9M3273.0 1270.6V1289.2M3286.0 1272.7V1279.3M3289.0 1251.6V1271.9M3296.0 1234.2V1254.1M3316.0 1253.6V1273.4M3319.0 1252.4V1252.8M3322.0 1223.5V1251.6M3326.0 1202.9V1222.7M3329.0 1201.2V1202.1M3345.0 1243.3V1249.9M3348.0 1241.2V1242.5M3352.0 1226.0V1240.4M3355.0 1206.2V1225.2M3358.0 1180.6V1205.4M3362.0 1129.9V1179.8M3368.0 1088.6V1142.7M3371.0 1070.0V1087.8M3375.0 1069.2V1069.6M3385.0 1083.2V1089.0M3388.0 1044.5V1082.4M3394.0 1061.0V1061.8M3398.0 1046.1V1060.2M3427.0 1102.2V1106.4M3437.0 1083.2V1133.2M3444.0 1082.4V1101.4M3447.0 1076.2V1081.6M3460.0 1081.6V1093.2M3463.0 1065.1V1080.8M3473.0 1072.1V1091.9M3476.0 1061.0V1071.3M3483.0 1073.3V1076.7M3486.0 1048.6V1072.5M3489.0 1046.1V1047.8M3493.0 1012.3V1045.3M3496.0 1011.5V1011.9M3506.0 1044.5V1052.7M3516.0 1039.1V1064.3M3519.0 1029.6V1038.3M3526.0 1065.1V1077.5M3539.0 1116.2V1119.6M3548.0 1125.7V1131.1M3552.0 1114.6V1124.9M3558.0 1146.4V1146.8M3565.0 1168.2V1171.5M3568.0 1155.8V1167.4M3571.0 1135.2V1155.0M3575.0 1101.0V1134.4M3585.0 1121.9V1122.3M3588.0 1105.0V1121.1M3608.0 1206.0V1213.5M3611.0 1201.1V1205.2M3617.0 1206.0V1214.3" stroke="#00e400" stroke-width="2.0" fill="none"/>
<path d="M4.0 459.1V478.3M7.0 477.1V494.8M21.0 459.7V486.5M24.0 485.3V511.3M27.0 510.1V564.9M37.0 532.7V536.0M40.0 534.8V558.7M44.0 557.5V579.3M47.0 578.1V585.5M50.0 584.3V600.0M63.0 466.7V474.1M80.0 386.3V416.4M83.0 415.2V430.8M96.0 292.2V333.9M99.0 332.7V371.0M106.0 336.8V358.6M109.0 357.4V368.9M112.0 367.7V371.8M116.0 370.6V393.7M119.0 392.5V395.7M126.0 352.5V354.9M129.0 353.3V355.7M135.0 334.7V338.0M142.0 330.6V333.0M168.0 215.1V226.6M175.0 199.4V241.0M178.0 239.8V243.1M181.0 241.9V261.7M185.0 260.5V278.2M188.0 277.0V313.2M191.0 312.0V315.3M194.0 314.1V323.6M198.0 322.4V333.9M211.0 289.4V325.6M214.0 324.4V360.7M217.0 359.5V373.1M221.0 371.9V401.9M227.0 371.9V395.7M240.0 334.7V385.4M244.0 384.2V434.9M247.0 433.7V467.9M250.0 466.7V470.8M253.0 469.6V490.6M257.0 489.4V511.3M263.0 495.6V498.0M273.0 481.2V536.0M289.0 476.2V525.7M293.0 524.5V581.4M303.0 567.8V603.4M306.0 602.2V619.9M319.0 583.6V586.9M322.0 585.7V591.0M326.0 589.8V603.4M329.0 602.2V615.7M339.0 591.9V607.5M342.0 606.3V609.6M352.0 567.1V586.9M355.0 585.7V599.2M358.0 598.0V601.3M362.0 600.1V603.4M368.0 523.8V568.3M371.0 567.1V593.1M375.0 591.9V640.5M378.0 639.3V642.6M381.0 641.4V665.3M391.0 624.9V665.3M394.0 664.1V706.5M404.0 662.0V679.7M411.0 651.7V671.4M414.0 670.2V673.5M421.0 587.7V595.1M427.0 571.2V573.6M430.0 571.2V576.6M437.0 532.0V537.4M440.0 536.2V560.1M450.0 524.6V537.4M453.0 536.2V539.4M457.0 538.2V551.8M460.0 550.6V560.1M467.0 532.0V535.3M470.0 534.1V543.6M473.0 542.4V568.3M476.0 567.1V584.8M480.0 583.6V595.1M493.0 507.3V514.7M496.0 513.5V543.6M499.0 542.4V562.1M503.0 560.9V563.3M519.0 486.7V531.2M522.0 530.0V533.2M542.0 420.6V428.4M548.0 419.8V428.4M552.0 427.2V429.6M555.0 428.0V436.6M562.0 404.9V416.8M575.0 345.2V355.0M581.0 340.9V371.5M588.0 367.0V389.6M594.0 386.8V389.3M601.0 367.8V407.8M604.0 406.6V419.3M611.0 414.8V423.4M621.0 408.2V413.5M624.0 412.3V414.7M627.0 413.2V415.6M634.0 376.9V389.6M640.0 365.3V369.8M644.0 368.6V373.1M653.0 363.3V373.9M660.0 370.3V386.3M663.0 385.1V430.9M670.0 425.5V439.9M673.0 438.7V441.9M683.0 424.2V433.7M693.0 395.4V427.5M696.0 426.3V429.6M706.0 380.9V384.2M722.0 339.7V351.2M726.0 350.0V353.2M729.0 352.0V386.2M735.0 350.0V353.2M739.0 352.0V355.3M745.0 341.7V367.7M765.0 305.8V330.6M768.0 329.4V334.7M771.0 333.5V380.1M785.0 345.9V349.1M788.0 347.9V355.3M791.0 354.1V356.5M794.0 355.3V363.6M798.0 362.4V367.7M801.0 366.5V368.9M804.0 367.7V375.9M811.0 358.2V365.6M817.0 324.0V342.9M821.0 341.7V353.2M827.0 350.0V361.5M830.0 360.3V388.3M834.0 387.1V402.7M837.0 401.5V406.9M844.0 385.0V402.7M850.0 374.7V415.1M853.0 413.9V416.3M857.0 413.9V417.2M860.0 416.0V421.3M873.0 392.5V394.9M880.0 391.2V402.7M883.0 401.5V406.9M893.0 395.4V402.7M903.0 374.7V382.1M906.0 380.9V386.2M909.0 385.0V415.1M912.0 413.9V416.3M922.0 362.4V411.0M926.0 409.8V450.2M929.0 449.0V472.9M932.0 471.7V499.7M935.0 498.5V530.6M939.0 529.4V540.9M945.0 504.7V569.8M952.0 556.2V585.4M955.0 584.2V614.2M958.0 613.0V628.7M968.0 608.1V657.5M971.0 656.3V667.9M975.0 666.7V690.6M981.0 677.0V680.2M988.0 648.1V713.2M998.0 631.6V657.5M1001.0 656.3V707.1M1008.0 664.6V692.6M1014.0 635.7V638.1M1017.0 635.7V672.0M1021.0 670.8V676.1M1027.0 658.4V661.7M1030.0 660.5V662.9M1034.0 660.5V668.7M1044.0 622.1V651.4M1050.0 633.7V650.5M1053.0 649.3V678.2M1057.0 677.0V708.3M1063.0 681.1V766.9M1070.0 732.7V738.0M1089.0 671.6V694.7M1096.0 690.6V740.1M1103.0 715.3V740.1M1106.0 738.9V783.4M1112.0 776.0V778.4M1116.0 776.0V792.9M1119.0 791.7V801.9M1122.0 800.7V804.0M1126.0 802.8V826.7M1129.0 825.5V847.3M1132.0 846.1V884.4M1135.0 883.2V900.9M1139.0 899.7V902.1M1145.0 888.6V911.3M1148.0 910.1V925.7M1152.0 924.5V940.1M1155.0 938.9V941.3M1158.0 938.9V984.7M1165.0 964.5V977.3M1168.0 976.1V979.3M1171.0 978.1V981.4M1175.0 980.2V993.8M1191.0 954.6V962.8M1201.0 956.3V1008.2M1208.0 1004.1V1008.2M1217.0 945.1V969.0M1224.0 965.8V971.1M1234.0 932.7V940.1M1237.0 938.9V960.8M1240.0 959.6V1004.1M1244.0 1002.9V1033.0M1247.0 1031.8V1091.5M1250.0 1090.3V1101.3M1257.0 1077.4V1101.3M1260.0 1100.1V1165.3M1267.0 1162.0V1179.7M1273.0 1143.4V1169.4M1280.0 1145.5V1148.8M1286.0 1143.4V1159.1M1289.0 1157.9V1185.9M1293.0 1184.7V1187.9M1306.0 1136.0V1139.7M1309.0 1138.5V1148.8M1319.0 1122.8V1144.6M1326.0 1102.2V1104.6M1329.0 1102.2V1146.7M1335.0 1126.9V1161.1M1342.0 1136.0V1138.4M1345.0 1137.2V1185.9M1348.0 1184.7V1194.1M1352.0 1192.9V1232.1M1355.0 1230.9V1247.8M1362.0 1189.6V1225.1M1365.0 1223.9V1229.2M1368.0 1228.0V1235.4M1375.0 1157.9V1220.9M1385.0 1104.2V1108.7M1388.0 1107.5V1124.0M1391.0 1122.8V1131.4M1394.0 1130.2V1169.4M1398.0 1168.2V1218.9M1401.0 1217.7V1241.6M1404.0 1240.4V1245.7M1408.0 1244.5V1247.8M1414.0 1229.2V1249.8M1421.0 1228.0V1230.4M1427.0 1199.1V1201.5M1430.0 1199.1V1248.6M1437.0 1230.1V1232.5M1444.0 1143.4V1157.0M1450.0 1131.1V1189.2M1453.0 1188.0V1190.4M1470.0 1034.1V1039.4M1473.0 1038.2V1045.6M1476.0 1044.4V1119.9M1480.0 1118.7V1128.1M1489.0 1060.9V1064.2M1493.0 1063.0V1091.0M1496.0 1089.8V1099.2M1506.0 988.7V991.2M1509.0 990.0V1029.1M1512.0 1027.9V1049.7M1516.0 1048.5V1088.9M1519.0 1087.7V1109.6M1526.0 1098.0V1130.2M1529.0 1129.0V1134.3M1532.0 1133.1V1177.6M1535.0 1176.4V1181.8M1539.0 1180.6V1220.9M1542.0 1219.7V1223.0M1545.0 1221.8V1241.6M1552.0 1151.0V1153.4M1555.0 1152.2V1199.6M1558.0 1198.4V1228.5M1562.0 1227.3V1236.7M1571.0 1163.3V1168.7M1575.0 1167.5V1179.0M1581.0 1162.1V1166.6M1585.0 1165.4V1170.7M1591.0 1145.6V1148.0M1594.0 1146.8V1166.6M1598.0 1165.4V1179.0M1601.0 1177.8V1191.4M1608.0 1175.7V1216.1M1611.0 1214.9V1231.8M1617.0 1191.0V1220.2M1621.0 1219.0V1226.4M1624.0 1225.2V1288.3M1627.0 1287.1V1296.6M1630.0 1295.4V1317.2M1634.0 1316.0V1328.3M1640.0 1320.1V1325.4M1644.0 1324.2V1339.9M1650.0 1318.0V1341.9M1653.0 1340.7V1353.1M1660.0 1342.8V1358.4M1667.0 1335.4V1356.4M1670.0 1355.2V1362.6M1673.0 1361.4V1399.7M1676.0 1398.5V1407.9M1683.0 1373.7V1394.3M1686.0 1393.1V1395.6M1689.0 1394.4V1397.6M1699.0 1354.4V1364.6M1703.0 1363.4V1369.6M1709.0 1334.5V1339.0M1712.0 1337.8V1391.4M1719.0 1355.2V1358.4M1722.0 1357.2V1361.3M1729.0 1357.2V1372.1M1735.0 1369.6V1372.9M1739.0 1371.7V1381.1M1742.0 1379.9V1389.4M1745.0 1388.2V1479.3M1748.0 1478.1V1481.0M1758.0 1455.0V1486.3M1762.0 1485.1V1531.7M1768.0 1522.3V1532.9M1771.0 1531.7V1587.4M1785.0 1532.6V1535.8M1801.0 1443.9V1447.1M1804.0 1445.9V1456.2M1811.0 1445.9V1476.8M1814.0 1475.6V1540.0M1821.0 1530.5V1533.8M1824.0 1532.6V1548.2M1827.0 1547.0V1550.3M1844.0 1498.5V1500.9M1860.0 1361.1V1421.3M1863.0 1420.1V1422.5M1870.0 1377.6V1411.0M1873.0 1409.8V1415.1M1880.0 1411.9V1436.6M1883.0 1435.4V1439.0M1893.0 1418.0V1448.1M1896.0 1446.9V1485.3M1899.0 1484.1V1506.7M1903.0 1505.5V1507.9M1912.0 1449.0V1468.8M1916.0 1467.6V1470.8M1919.0 1469.6V1518.3M1922.0 1517.1V1526.5M1935.0 1477.9V1481.1M1939.0 1479.9V1494.3M1942.0 1493.1V1495.6M1955.0 1421.3V1446.1M1962.0 1413.9V1417.2M1965.0 1416.0V1431.6M1971.0 1428.4V1447.3M1978.0 1380.1V1388.3M1988.0 1369.4V1406.9M1991.0 1405.7V1435.7M1994.0 1434.5V1436.9M2001.0 1401.5V1448.1M2008.0 1418.0V1446.1M2014.0 1425.5V1479.1M2027.0 1424.2V1426.7M2034.0 1402.4V1419.2M2044.0 1395.4V1400.7M2047.0 1399.5V1401.9M2053.0 1393.3V1447.3M2057.0 1446.1V1462.6M2060.0 1461.4V1505.9M2063.0 1504.7V1536.8M2067.0 1535.6V1564.5M2073.0 1541.8V1549.2M2076.0 1548.0V1561.6M2083.0 1550.1V1607.0M2086.0 1605.8V1609.0M2093.0 1588.0V1590.4M2096.0 1588.0V1590.4M2103.0 1538.5V1563.6M2116.0 1498.5V1500.9M2122.0 1484.1V1522.4M2132.0 1441.3V1498.2M2135.0 1497.0V1507.7M2155.0 1472.3V1485.8M2162.0 1448.7V1465.2M2165.0 1464.0V1466.4M2171.0 1428.1V1440.5M2175.0 1439.3V1444.6M2181.0 1424.8V1477.6M2204.0 1308.5V1324.9M2211.0 1299.0V1316.7M2217.0 1260.6V1285.7M2221.0 1284.5V1316.7M2230.0 1217.7V1241.2M2234.0 1240.0V1254.8M2240.0 1233.0V1277.5M2244.0 1276.3V1281.6M2247.0 1280.4V1289.0M2250.0 1287.8V1294.0M2260.0 1208.2V1215.6M2270.0 1207.0V1242.4M2273.0 1241.2V1271.3M2280.0 1245.4V1271.3M2289.0 1202.0V1217.7M2296.0 1193.8V1225.9M2306.0 1136.9V1148.8M2309.0 1147.6V1175.2M2312.0 1174.0V1190.9M2316.0 1189.7V1192.9M2322.0 1170.3V1250.7M2329.0 1228.9V1244.5M2335.0 1211.1V1303.1M2339.0 1301.9V1314.6M2345.0 1311.4V1357.9M2348.0 1356.7V1384.8M2355.0 1359.6V1362.1M2362.0 1354.7V1407.4M2365.0 1406.2V1415.7M2371.0 1380.3V1426.8M2375.0 1425.6V1428.1M2378.0 1426.9V1429.3M2381.0 1428.1V1432.2M2385.0 1431.0V1449.9M2388.0 1448.7V1451.6M2394.0 1428.9V1449.9M2398.0 1448.7V1451.6M2408.0 1412.4V1426.8M2411.0 1425.6V1429.6M2424.0 1308.8V1328.6M2427.0 1327.4V1355.4M2430.0 1354.2V1357.4M2434.0 1356.2V1363.6M2440.0 1338.5V1343.0M2444.0 1341.8V1361.6M2450.0 1315.0V1318.3M2460.0 1237.8V1244.0M2463.0 1242.8V1378.1M2476.0 1317.1V1319.5M2483.0 1273.7V1277.0M2486.0 1275.8V1312.1M2493.0 1284.1V1303.8M2503.0 1233.7V1239.9M2509.0 1228.4V1254.3M2516.0 1247.7V1292.7M2519.0 1291.5V1303.8M2526.0 1294.4V1310.0M2535.0 1293.1V1297.6M2545.0 1246.1V1276.2M2552.0 1240.7V1248.1M2558.0 1236.6V1239.0M2571.0 1193.3V1196.6M2575.0 1195.4V1220.1M2581.0 1196.6V1199.4M2585.0 1198.2V1215.9M2591.0 1200.7V1229.6M2594.0 1228.4V1239.0M2601.0 1234.5V1236.9M2608.0 1234.5V1262.6M2611.0 1261.4V1264.6M2614.0 1263.4V1288.6M2634.0 1199.5V1208.9M2637.0 1207.7V1223.4M2640.0 1222.2V1272.1M2647.0 1260.1V1307.9M2650.0 1306.7V1309.2M2657.0 1286.1V1297.6M2660.0 1296.4V1300.9M2673.0 1222.2V1226.7M2676.0 1225.5V1234.9M2686.0 1197.4V1226.7M2696.0 1206.5V1211.8M2699.0 1210.6V1233.7M2703.0 1232.5V1251.4M2706.0 1250.2V1253.1M2712.0 1236.6V1275.4M2735.0 1183.5V1185.9M2739.0 1184.7V1232.1M2742.0 1230.9V1244.5M2752.0 1217.7V1249.4M2755.0 1248.2V1250.7M2771.0 1202.9V1208.2M2781.0 1162.8V1168.2M2785.0 1167.0V1227.2M2788.0 1226.0V1238.3M2791.0 1237.1V1282.4M2798.0 1263.9V1266.3M2801.0 1264.7V1303.1M2804.0 1301.9V1374.4M2814.0 1341.5V1344.3M2817.0 1343.1V1349.7M2827.0 1301.9V1304.3M2830.0 1303.1V1348.5M2834.0 1347.3V1350.9M2844.0 1307.2V1314.6M2850.0 1303.1V1306.4M2853.0 1305.2V1313.8M2860.0 1293.6V1320.8M2867.0 1294.9V1363.3M2870.0 1362.1V1389.7M2873.0 1388.5V1419.8M2880.0 1412.4V1423.9M2883.0 1422.7V1434.3M2886.0 1433.1V1449.9M2889.0 1448.7V1459.0M2896.0 1446.3V1452.8M2909.0 1428.9V1449.9M2919.0 1374.5V1395.1M2922.0 1393.9V1396.3M2939.0 1292.8V1298.1M2945.0 1259.8V1291.9M2952.0 1263.9V1267.2M2958.0 1251.5V1253.9M2962.0 1252.4V1256.9M2965.0 1255.7V1275.4M2968.0 1274.2V1277.5M2988.0 1202.0V1214.8M2991.0 1213.6V1216.0M2994.0 1214.4V1232.1M2998.0 1230.9V1233.3M3004.0 1205.7V1226.7M3014.0 1188.3V1202.7M3021.0 1198.2V1215.1M3027.0 1200.7V1206.0M3034.0 1187.1V1189.5M3037.0 1188.3V1208.9M3044.0 1205.7V1215.1M3047.0 1213.9V1258.4M3053.0 1246.1V1253.1M3060.0 1250.2V1281.1M3063.0 1279.9V1291.4M3073.0 1257.2V1263.8M3080.0 1189.2V1192.4M3083.0 1191.2V1206.0M3093.0 1178.9V1204.8M3096.0 1203.6V1231.6M3099.0 1230.4V1235.7M3103.0 1234.5V1236.9M3106.0 1235.4V1237.8M3112.0 1209.8V1225.4M3116.0 1224.2V1228.3M3119.0 1227.1V1239.9M3122.0 1238.7V1261.3M3129.0 1259.3V1272.1M3132.0 1270.9V1273.3M3135.0 1271.7V1295.6M3139.0 1294.4V1296.8M3155.0 1249.0V1264.6M3158.0 1263.4V1295.6M3171.0 1258.5V1277.0M3175.0 1275.8V1305.9M3178.0 1304.7V1307.9M3181.0 1306.7V1312.1M3188.0 1282.0V1284.4M3194.0 1276.6V1339.7M3198.0 1338.5V1342.2M3201.0 1341.0V1349.2M3204.0 1348.0V1352.1M3208.0 1350.9V1369.8M3227.0 1327.4V1333.9M3244.0 1291.5V1317.4M3247.0 1316.2V1319.1M3250.0 1317.9V1327.3M3257.0 1310.9V1315.0M3260.0 1313.8V1356.2M3276.0 1269.6V1272.1M3280.0 1270.9V1274.9M3283.0 1273.7V1280.3M3293.0 1250.6V1255.1M3299.0 1233.2V1244.3M3303.0 1243.1V1255.1M3306.0 1253.9V1267.4M3309.0 1266.2V1273.2M3312.0 1272.0V1274.4M3332.0 1200.2V1241.4M3335.0 1240.2V1244.3M3339.0 1243.1V1249.7M3342.0 1248.5V1250.9M3365.0 1128.9V1143.7M3378.0 1068.2V1087.6M3381.0 1086.4V1090.0M3391.0 1043.5V1062.8M3401.0 1045.1V1061.2M3404.0 1060.0V1064.0M3408.0 1062.8V1072.3M3411.0 1071.1V1081.8M3414.0 1080.6V1088.8M3417.0 1087.6V1090.0M3421.0 1088.8V1099.9M3424.0 1098.7V1107.4M3430.0 1101.2V1119.7M3434.0 1118.5V1134.2M3440.0 1082.2V1102.4M3450.0 1075.2V1088.8M3453.0 1087.6V1091.7M3457.0 1090.5V1094.2M3467.0 1064.1V1072.3M3470.0 1071.1V1092.9M3480.0 1060.0V1077.7M3499.0 1010.5V1036.4M3503.0 1035.2V1053.7M3509.0 1043.5V1045.9M3512.0 1044.3V1065.3M3522.0 1028.6V1078.5M3529.0 1064.1V1077.7M3532.0 1076.5V1102.4M3535.0 1101.2V1120.6M3542.0 1115.2V1128.0M3545.0 1126.8V1132.1M3555.0 1113.6V1147.8M3562.0 1145.4V1172.5M3578.0 1100.0V1102.4M3581.0 1101.2V1122.4M3591.0 1104.0V1136.9M3594.0 1135.7V1141.9M3598.0 1140.7V1157.5M3601.0 1156.3V1191.4M3604.0 1190.2V1214.5M3614.0 1200.1V1215.3" stroke="#5a1410" stroke-width="3.9" fill="none"/><path d="M4.0 460.1V477.3M7.0 478.1V493.8M21.0 460.7V485.5M24.0 486.3V510.3M27.0 511.1V563.9M37.0 533.7V535.0M40.0 535.8V557.7M44.0 558.5V578.3M47.0 579.1V584.5M50.0 585.3V599.0M63.0 467.7V473.1M80.0 387.3V415.4M83.0 416.2V429.8M96.0 293.2V332.9M99.0 333.7V370.0M106.0 337.8V357.6M109.0 358.4V367.9M112.0 368.7V370.8M116.0 371.6V392.7M119.0 393.5V394.7M126.0 353.5V353.9M129.0 354.3V354.7M135.0 335.7V337.0M142.0 331.6V332.0M168.0 216.1V225.6M175.0 200.4V240.0M178.0 240.8V242.1M181.0 242.9V260.7M185.0 261.5V277.2M188.0 278.0V312.2M191.0 313.0V314.3M194.0 315.1V322.6M198.0 323.4V332.9M211.0 290.4V324.6M214.0 325.4V359.7M217.0 360.5V372.1M221.0 372.9V400.9M227.0 372.9V394.7M240.0 335.7V384.4M244.0 385.2V433.9M247.0 434.7V466.9M250.0 467.7V469.8M253.0 470.6V489.6M257.0 490.4V510.3M263.0 496.6V497.0M273.0 482.2V535.0M289.0 477.2V524.7M293.0 525.5V580.4M303.0 568.8V602.4M306.0 603.2V618.9M319.0 584.6V585.9M322.0 586.7V590.0M326.0 590.8V602.4M329.0 603.2V614.7M339.0 592.9V606.5M342.0 607.3V608.6M352.0 568.1V585.9M355.0 586.7V598.2M358.0 599.0V600.3M362.0 601.1V602.4M368.0 524.8V567.3M371.0 568.1V592.1M375.0 592.9V639.5M378.0 640.3V641.6M381.0 642.4V664.3M391.0 625.9V664.3M394.0 665.1V705.5M404.0 663.0V678.7M411.0 652.7V670.4M414.0 671.2V672.5M421.0 588.7V594.1M427.0 572.2V572.6M430.0 572.2V575.6M437.0 533.0V536.4M440.0 537.2V559.1M450.0 525.6V536.4M453.0 537.2V538.4M457.0 539.2V550.8M460.0 551.6V559.1M467.0 533.0V534.3M470.0 535.1V542.6M473.0 543.4V567.3M476.0 568.1V583.8M480.0 584.6V594.1M493.0 508.3V513.7M496.0 514.5V542.6M499.0 543.4V561.1M503.0 561.9V562.3M519.0 487.7V530.2M522.0 531.0V532.2M542.0 421.6V427.4M548.0 420.8V427.4M552.0 428.2V428.6M555.0 429.0V435.6M562.0 405.9V415.8M575.0 346.2V354.0M581.0 341.9V370.5M588.0 368.0V388.6M594.0 387.8V388.3M601.0 368.8V406.8M604.0 407.6V418.3M611.0 415.8V422.4M621.0 409.2V412.5M624.0 413.3V413.7M627.0 414.2V414.6M634.0 377.9V388.6M640.0 366.3V368.8M644.0 369.6V372.1M653.0 364.3V372.9M660.0 371.3V385.3M663.0 386.1V429.9M670.0 426.5V438.9M673.0 439.7V440.9M683.0 425.2V432.7M693.0 396.4V426.5M696.0 427.3V428.6M706.0 381.9V383.2M722.0 340.7V350.2M726.0 351.0V352.2M729.0 353.0V385.2M735.0 351.0V352.2M739.0 353.0V354.3M745.0 342.7V366.7M765.0 306.8V329.6M768.0 330.4V333.7M771.0 334.5V379.1M785.0 346.9V348.1M788.0 348.9V354.3M791.0 355.1V355.5M794.0 356.3V362.6M798.0 363.4V366.7M801.0 367.5V367.9M804.0 368.7V374.9M811.0 359.2V364.6M817.0 325.0V341.9M821.0 342.7V352.2M827.0 351.0V360.5M830.0 361.3V387.3M834.0 388.1V401.7M837.0 402.5V405.9M844.0 386.0V401.7M850.0 375.7V414.1M853.0 414.9V415.3M857.0 414.9V416.2M860.0 417.0V420.3M873.0 393.5V393.9M880.0 392.2V401.7M883.0 402.5V405.9M893.0 396.4V401.7M903.0 375.7V381.1M906.0 381.9V385.2M909.0 386.0V414.1M912.0 414.9V415.3M922.0 363.4V410.0M926.0 410.8V449.2M929.0 450.0V471.9M932.0 472.7V498.7M935.0 499.5V529.6M939.0 530.4V539.9M945.0 505.7V568.8M952.0 557.2V584.4M955.0 585.2V613.2M958.0 614.0V627.7M968.0 609.1V656.5M971.0 657.3V666.9M975.0 667.7V689.6M981.0 678.0V679.2M988.0 649.1V712.2M998.0 632.6V656.5M1001.0 657.3V706.1M1008.0 665.6V691.6M1014.0 636.7V637.1M1017.0 636.7V671.0M1021.0 671.8V675.1M1027.0 659.4V660.7M1030.0 661.5V661.9M1034.0 661.5V667.7M1044.0 623.1V650.4M1050.0 634.7V649.5M1053.0 650.3V677.2M1057.0 678.0V707.3M1063.0 682.1V765.9M1070.0 733.7V737.0M1089.0 672.6V693.7M1096.0 691.6V739.1M1103.0 716.3V739.1M1106.0 739.9V782.4M1112.0 777.0V777.4M1116.0 777.0V791.9M1119.0 792.7V800.9M1122.0 801.7V803.0M1126.0 803.8V825.7M1129.0 826.5V846.3M1132.0 847.1V883.4M1135.0 884.2V899.9M1139.0 900.7V901.1M1145.0 889.6V910.3M1148.0 911.1V924.7M1152.0 925.5V939.1M1155.0 939.9V940.3M1158.0 939.9V983.7M1165.0 965.5V976.3M1168.0 977.1V978.3M1171.0 979.1V980.4M1175.0 981.2V992.8M1191.0 955.6V961.8M1201.0 957.3V1007.2M1208.0 1005.1V1007.2M1217.0 946.1V968.0M1224.0 966.8V970.1M1234.0 933.7V939.1M1237.0 939.9V959.8M1240.0 960.6V1003.1M1244.0 1003.9V1032.0M1247.0 1032.8V1090.5M1250.0 1091.3V1100.3M1257.0 1078.4V1100.3M1260.0 1101.1V1164.3M1267.0 1163.0V1178.7M1273.0 1144.4V1168.4M1280.0 1146.5V1147.8M1286.0 1144.4V1158.1M1289.0 1158.9V1184.9M1293.0 1185.7V1186.9M1306.0 1137.0V1138.7M1309.0 1139.5V1147.8M1319.0 1123.8V1143.6M1326.0 1103.2V1103.6M1329.0 1103.2V1145.7M1335.0 1127.9V1160.1M1342.0 1137.0V1137.4M1345.0 1138.2V1184.9M1348.0 1185.7V1193.1M1352.0 1193.9V1231.1M1355.0 1231.9V1246.8M1362.0 1190.6V1224.1M1365.0 1224.9V1228.2M1368.0 1229.0V1234.4M1375.0 1158.9V1219.9M1385.0 1105.2V1107.7M1388.0 1108.5V1123.0M1391.0 1123.8V1130.4M1394.0 1131.2V1168.4M1398.0 1169.2V1217.9M1401.0 1218.7V1240.6M1404.0 1241.4V1244.7M1408.0 1245.5V1246.8M1414.0 1230.2V1248.8M1421.0 1229.0V1229.4M1427.0 1200.1V1200.5M1430.0 1200.1V1247.6M1437.0 1231.1V1231.5M1444.0 1144.4V1156.0M1450.0 1132.1V1188.2M1453.0 1189.0V1189.4M1470.0 1035.1V1038.4M1473.0 1039.2V1044.6M1476.0 1045.4V1118.9M1480.0 1119.7V1127.1M1489.0 1061.9V1063.2M1493.0 1064.0V1090.0M1496.0 1090.8V1098.2M1506.0 989.7V990.2M1509.0 991.0V1028.1M1512.0 1028.9V1048.7M1516.0 1049.5V1087.9M1519.0 1088.7V1108.6M1526.0 1099.0V1129.2M1529.0 1130.0V1133.3M1532.0 1134.1V1176.6M1535.0 1177.4V1180.8M1539.0 1181.6V1219.9M1542.0 1220.7V1222.0M1545.0 1222.8V1240.6M1552.0 1152.0V1152.4M1555.0 1153.2V1198.6M1558.0 1199.4V1227.5M1562.0 1228.3V1235.7M1571.0 1164.3V1167.7M1575.0 1168.5V1178.0M1581.0 1163.1V1165.6M1585.0 1166.4V1169.7M1591.0 1146.6V1147.0M1594.0 1147.8V1165.6M1598.0 1166.4V1178.0M1601.0 1178.8V1190.4M1608.0 1176.7V1215.1M1611.0 1215.9V1230.8M1617.0 1192.0V1219.2M1621.0 1220.0V1225.4M1624.0 1226.2V1287.3M1627.0 1288.1V1295.6M1630.0 1296.4V1316.2M1634.0 1317.0V1327.3M1640.0 1321.1V1324.4M1644.0 1325.2V1338.9M1650.0 1319.0V1340.9M1653.0 1341.7V1352.1M1660.0 1343.8V1357.4M1667.0 1336.4V1355.4M1670.0 1356.2V1361.6M1673.0 1362.4V1398.7M1676.0 1399.5V1406.9M1683.0 1374.7V1393.3M1686.0 1394.1V1394.6M1689.0 1395.4V1396.6M1699.0 1355.4V1363.6M1703.0 1364.4V1368.6M1709.0 1335.5V1338.0M1712.0 1338.8V1390.4M1719.0 1356.2V1357.4M1722.0 1358.2V1360.3M1729.0 1358.2V1371.1M1735.0 1370.6V1371.9M1739.0 1372.7V1380.1M1742.0 1380.9V1388.4M1745.0 1389.2V1478.3M1748.0 1479.1V1480.0M1758.0 1456.0V1485.3M1762.0 1486.1V1530.7M1768.0 1523.3V1531.9M1771.0 1532.7V1586.4M1785.0 1533.6V1534.8M1801.0 1444.9V1446.1M1804.0 1446.9V1455.2M1811.0 1446.9V1475.8M1814.0 1476.6V1539.0M1821.0 1531.5V1532.8M1824.0 1533.6V1547.2M1827.0 1548.0V1549.3M1844.0 1499.5V1499.9M1860.0 1362.1V1420.3M1863.0 1421.1V1421.5M1870.0 1378.6V1410.0M1873.0 1410.8V1414.1M1880.0 1412.9V1435.6M1883.0 1436.4V1438.0M1893.0 1419.0V1447.1M1896.0 1447.9V1484.3M1899.0 1485.1V1505.7M1903.0 1506.5V1506.9M1912.0 1450.0V1467.8M1916.0 1468.6V1469.8M1919.0 1470.6V1517.3M1922.0 1518.1V1525.5M1935.0 1478.9V1480.1M1939.0 1480.9V1493.3M1942.0 1494.1V1494.6M1955.0 1422.3V1445.1M1962.0 1414.9V1416.2M1965.0 1417.0V1430.6M1971.0 1429.4V1446.3M1978.0 1381.1V1387.3M1988.0 1370.4V1405.9M1991.0 1406.7V1434.7M1994.0 1435.5V1435.9M2001.0 1402.5V1447.1M2008.0 1419.0V1445.1M2014.0 1426.5V1478.1M2027.0 1425.2V1425.7M2034.0 1403.4V1418.2M2044.0 1396.4V1399.7M2047.0 1400.5V1400.9M2053.0 1394.3V1446.3M2057.0 1447.1V1461.6M2060.0 1462.4V1504.9M2063.0 1505.7V1535.8M2067.0 1536.6V1563.5M2073.0 1542.8V1548.2M2076.0 1549.0V1560.6M2083.0 1551.1V1606.0M2086.0 1606.8V1608.0M2093.0 1589.0V1589.4M2096.0 1589.0V1589.4M2103.0 1539.5V1562.6M2116.0 1499.5V1499.9M2122.0 1485.1V1521.4M2132.0 1442.3V1497.2M2135.0 1498.0V1506.7M2155.0 1473.3V1484.8M2162.0 1449.7V1464.2M2165.0 1465.0V1465.4M2171.0 1429.1V1439.5M2175.0 1440.3V1443.6M2181.0 1425.8V1476.6M2204.0 1309.5V1323.9M2211.0 1300.0V1315.7M2217.0 1261.6V1284.7M2221.0 1285.5V1315.7M2230.0 1218.7V1240.2M2234.0 1241.0V1253.8M2240.0 1234.0V1276.5M2244.0 1277.3V1280.6M2247.0 1281.4V1288.0M2250.0 1288.8V1293.0M2260.0 1209.2V1214.6M2270.0 1208.0V1241.4M2273.0 1242.2V1270.3M2280.0 1246.4V1270.3M2289.0 1203.0V1216.7M2296.0 1194.8V1224.9M2306.0 1137.9V1147.8M2309.0 1148.6V1174.2M2312.0 1175.0V1189.9M2316.0 1190.7V1191.9M2322.0 1171.3V1249.7M2329.0 1229.9V1243.5M2335.0 1212.1V1302.1M2339.0 1302.9V1313.6M2345.0 1312.4V1356.9M2348.0 1357.7V1383.8M2355.0 1360.6V1361.1M2362.0 1355.7V1406.4M2365.0 1407.2V1414.7M2371.0 1381.3V1425.8M2375.0 1426.6V1427.1M2378.0 1427.9V1428.3M2381.0 1429.1V1431.2M2385.0 1432.0V1448.9M2388.0 1449.7V1450.6M2394.0 1429.9V1448.9M2398.0 1449.7V1450.6M2408.0 1413.4V1425.8M2411.0 1426.6V1428.6M2424.0 1309.8V1327.6M2427.0 1328.4V1354.4M2430.0 1355.2V1356.4M2434.0 1357.2V1362.6M2440.0 1339.5V1342.0M2444.0 1342.8V1360.6M2450.0 1316.0V1317.3M2460.0 1238.8V1243.0M2463.0 1243.8V1377.1M2476.0 1318.1V1318.5M2483.0 1274.7V1276.0M2486.0 1276.8V1311.1M2493.0 1285.1V1302.8M2503.0 1234.7V1238.9M2509.0 1229.4V1253.3M2516.0 1248.7V1291.7M2519.0 1292.5V1302.8M2526.0 1295.4V1309.0M2535.0 1294.1V1296.6M2545.0 1247.1V1275.2M2552.0 1241.7V1247.1M2558.0 1237.6V1238.0M2571.0 1194.3V1195.6M2575.0 1196.4V1219.1M2581.0 1197.6V1198.4M2585.0 1199.2V1214.9M2591.0 1201.7V1228.6M2594.0 1229.4V1238.0M2601.0 1235.5V1235.9M2608.0 1235.5V1261.6M2611.0 1262.4V1263.6M2614.0 1264.4V1287.6M2634.0 1200.5V1207.9M2637.0 1208.7V1222.4M2640.0 1223.2V1271.1M2647.0 1261.1V1306.9M2650.0 1307.7V1308.2M2657.0 1287.1V1296.6M2660.0 1297.4V1299.9M2673.0 1223.2V1225.7M2676.0 1226.5V1233.9M2686.0 1198.4V1225.7M2696.0 1207.5V1210.8M2699.0 1211.6V1232.7M2703.0 1233.5V1250.4M2706.0 1251.2V1252.1M2712.0 1237.6V1274.4M2735.0 1184.5V1184.9M2739.0 1185.7V1231.1M2742.0 1231.9V1243.5M2752.0 1218.7V1248.4M2755.0 1249.2V1249.7M2771.0 1203.9V1207.2M2781.0 1163.8V1167.2M2785.0 1168.0V1226.2M2788.0 1227.0V1237.3M2791.0 1238.1V1281.4M2798.0 1264.9V1265.3M2801.0 1265.7V1302.1M2804.0 1302.9V1373.4M2814.0 1342.5V1343.3M2817.0 1344.1V1348.7M2827.0 1302.9V1303.3M2830.0 1304.1V1347.5M2834.0 1348.3V1349.9M2844.0 1308.2V1313.6M2850.0 1304.1V1305.4M2853.0 1306.2V1312.8M2860.0 1294.6V1319.8M2867.0 1295.9V1362.3M2870.0 1363.1V1388.7M2873.0 1389.5V1418.8M2880.0 1413.4V1422.9M2883.0 1423.7V1433.3M2886.0 1434.1V1448.9M2889.0 1449.7V1458.0M2896.0 1447.3V1451.8M2909.0 1429.9V1448.9M2919.0 1375.5V1394.1M2922.0 1394.9V1395.3M2939.0 1293.8V1297.1M2945.0 1260.8V1290.9M2952.0 1264.9V1266.2M2958.0 1252.5V1252.9M2962.0 1253.4V1255.9M2965.0 1256.7V1274.4M2968.0 1275.2V1276.5M2988.0 1203.0V1213.8M2991.0 1214.6V1215.0M2994.0 1215.4V1231.1M2998.0 1231.9V1232.3M3004.0 1206.7V1225.7M3014.0 1189.3V1201.7M3021.0 1199.2V1214.1M3027.0 1201.7V1205.0M3034.0 1188.1V1188.5M3037.0 1189.3V1207.9M3044.0 1206.7V1214.1M3047.0 1214.9V1257.4M3053.0 1247.1V1252.1M3060.0 1251.2V1280.1M3063.0 1280.9V1290.4M3073.0 1258.2V1262.8M3080.0 1190.2V1191.4M3083.0 1192.2V1205.0M3093.0 1179.9V1203.8M3096.0 1204.6V1230.6M3099.0 1231.4V1234.7M3103.0 1235.5V1235.9M3106.0 1236.4V1236.8M3112.0 1210.8V1224.4M3116.0 1225.2V1227.3M3119.0 1228.1V1238.9M3122.0 1239.7V1260.3M3129.0 1260.3V1271.1M3132.0 1271.9V1272.3M3135.0 1272.7V1294.6M3139.0 1295.4V1295.8M3155.0 1250.0V1263.6M3158.0 1264.4V1294.6M3171.0 1259.5V1276.0M3175.0 1276.8V1304.9M3178.0 1305.7V1306.9M3181.0 1307.7V1311.1M3188.0 1283.0V1283.4M3194.0 1277.6V1338.7M3198.0 1339.5V1341.2M3201.0 1342.0V1348.2M3204.0 1349.0V1351.1M3208.0 1351.9V1368.8M3227.0 1328.4V1332.9M3244.0 1292.5V1316.4M3247.0 1317.2V1318.1M3250.0 1318.9V1326.3M3257.0 1311.9V1314.0M3260.0 1314.8V1355.2M3276.0 1270.6V1271.1M3280.0 1271.9V1273.9M3283.0 1274.7V1279.3M3293.0 1251.6V1254.1M3299.0 1234.2V1243.3M3303.0 1244.1V1254.1M3306.0 1254.9V1266.4M3309.0 1267.2V1272.2M3312.0 1273.0V1273.4M3332.0 1201.2V1240.4M3335.0 1241.2V1243.3M3339.0 1244.1V1248.7M3342.0 1249.5V1249.9M3365.0 1129.9V1142.7M3378.0 1069.2V1086.6M3381.0 1087.4V1089.0M3391.0 1044.5V1061.8M3401.0 1046.1V1060.2M3404.0 1061.0V1063.0M3408.0 1063.8V1071.3M3411.0 1072.1V1080.8M3414.0 1081.6V1087.8M3417.0 1088.6V1089.0M3421.0 1089.8V1098.9M3424.0 1099.7V1106.4M3430.0 1102.2V1118.7M3434.0 1119.5V1133.2M3440.0 1083.2V1101.4M3450.0 1076.2V1087.8M3453.0 1088.6V1090.7M3457.0 1091.5V1093.2M3467.0 1065.1V1071.3M3470.0 1072.1V1091.9M3480.0 1061.0V1076.7M3499.0 1011.5V1035.4M3503.0 1036.2V1052.7M3509.0 1044.5V1044.9M3512.0 1045.3V1064.3M3522.0 1029.6V1077.5M3529.0 1065.1V1076.7M3532.0 1077.5V1101.4M3535.0 1102.2V1119.6M3542.0 1116.2V1127.0M3545.0 1127.8V1131.1M3555.0 1114.6V1146.8M3562.0 1146.4V1171.5M3578.0 1101.0V1101.4M3581.0 1102.2V1121.4M3591.0 1105.0V1135.9M3594.0 1136.7V1140.9M3598.0 1141.7V1156.5M3601.0 1157.3V1190.4M3604.0 1191.2V1213.5M3614.0 1201.1V1214.3" stroke="#ff0000" stroke-width="2.0" fill="none"/>
<line x1="3" y1="1203.55" x2="3633" y2="1203.55" stroke="#30e236" stroke-width="1.25" stroke-dasharray="2 1" opacity="0.92"/>
<g font-family="Liberation Sans, sans-serif" font-weight="bold" font-size="15.3" fill="#fff" text-anchor="middle">
<circle cx="27.65" cy="486.5" r="11.3" fill="#0a96f5"/><text x="27.9" y="491.9">P</text>
<circle cx="191.4" cy="266.25" r="11.3" fill="#0a96f5"/><text x="191.65" y="271.65">P</text>
</g>
</svg>
<!-- axes -->
<svg class="abs" style="left:0;top:0" width="3716" height="1749"><path d="M3634.15 3V1716M3 1715.1H3635.1" stroke="#5a5a5a" stroke-width="1.6" fill="none"/></svg>
<div class="rt" style="top:22.3px"></div>
<div class="rl" style="top:15.0px">10.00%</div>
<div class="rt" style="top:67.6px"></div>
<div class="rl" style="top:60.3px">9.00%</div>
<div class="rt" style="top:112.9px"></div>
<div class="rl" style="top:105.6px">8.00%</div>
<div class="rt" style="top:158.2px"></div>
<div class="rl" style="top:150.9px">7.00%</div>
<div class="rt" style="top:203.4px"></div>
<div class="rl" style="top:196.1px">6.00%</div>
<div class="rt" style="top:248.7px"></div>
<div class="rl" style="top:241.4px">5.00%</div>
<div class="rt" style="top:294.0px"></div>
<div class="rl" style="top:286.7px">4.00%</div>
<div class="rt" style="top:339.3px"></div>
<div class="rl" style="top:332.0px">3.00%</div>
<div class="rt" style="top:384.6px"></div>
<div class="rl" style="top:377.3px">2.00%</div>
<div class="rt" style="top:429.9px"></div>
<div class="rl" style="top:422.6px">1.00%</div>
<div class="rt" style="top:475.1px"></div>
<div class="rl" style="top:467.8px">0.00%</div>
<div class="rt" style="top:520.4px"></div>
<div class="rl" style="top:513.1px">-1.00%</div>
<div class="rt" style="top:565.7px"></div>
<div class="rl" style="top:558.4px">-2.00%</div>
<div class="rt" style="top:611.0px"></div>
<div class="rl" style="top:603.7px">-3.00%</div>
<div class="rt" style="top:656.3px"></div>
<div class="rl" style="top:649.0px">-4.00%</div>
<div class="rt" style="top:701.6px"></div>
<div class="rl" style="top:694.3px">-5.00%</div>
<div class="rt" style="top:746.8px"></div>
<div class="rl" style="top:739.5px">-6.00%</div>
<div class="rt" style="top:792.1px"></div>
<div class="rl" style="top:784.8px">-7.00%</div>
<div class="rt" style="top:837.4px"></div>
<div class="rl" style="top:830.1px">-8.00%</div>
<div class="rt" style="top:882.7px"></div>
<div class="rl" style="top:875.4px">-9.00%</div>
<div class="rt" style="top:928.0px"></div>
<div class="rl" style="top:920.7px">-10.00%</div>
<div class="rt" style="top:973.3px"></div>
<div class="rl" style="top:966.0px">-11.00%</div>
<div class="rt" style="top:1018.5px"></div>
<div class="rl" style="top:1011.2px">-12.00%</div>
<div class="rt" style="top:1063.8px"></div>
<div class="rl" style="top:1056.5px">-13.00%</div>
<div class="rt" style="top:1109.1px"></div>
<div class="rl" style="top:1101.8px">-14.00%</div>
<div class="rt" style="top:1154.4px"></div>
<div class="rl" style="top:1147.1px">-15.00%</div>
<div class="rt" style="top:1199.7px"></div>
<div class="rl" style="top:1192.4px">-16.00%</div>
<div class="rt" style="top:1245.0px"></div>
<div class="rl" style="top:1237.7px">-17.00%</div>
<div class="rt" style="top:1290.3px"></div>
<div class="rl" style="top:1283.0px">-18.00%</div>
<div class="rt" style="top:1335.5px"></div>
<div class="rl" style="top:1328.2px">-19.00%</div>
<div class="rt" style="top:1380.8px"></div>
<div class="rl" style="top:1373.5px">-20.00%</div>
<div class="rt" style="top:1426.1px"></div>
<div class="rl" style="top:1418.8px">-21.00%</div>
<div class="rt" style="top:1471.4px"></div>
<div class="rl" style="top:1464.1px">-22.00%</div>
<div class="rt" style="top:1516.7px"></div>
<div class="rl" style="top:1509.4px">-23.00%</div>
<div class="rt" style="top:1562.0px"></div>
<div class="rl" style="top:1554.7px">-24.00%</div>
<div class="rt" style="top:1607.2px"></div>
<div class="rl" style="top:1599.9px">-25.00%</div>
<div class="rt" style="top:1652.5px"></div>
<div class="rl" style="top:1645.2px">-26.00%</div>
<div class="rt" style="top:1697.8px"></div>
<div class="rl" style="top:1690.5px">-27.00%</div>
<div class="bt" style="left:52.6px"></div>
<div class="bl" style="left:2.2px">Sep</div>
<div class="bt" style="left:196.9px"></div>
<div class="bl" style="left:146.5px">Nov</div>
<div class="bt" style="left:337.8px"></div>
<div class="bl b" style="left:287.4px">2014</div>
<div class="bt" style="left:478.8px"></div>
<div class="bl" style="left:428.4px">Mar</div>
<div class="bt" style="left:619.8px"></div>
<div class="bl" style="left:569.4px">May</div>
<div class="bt" style="left:760.8px"></div>
<div class="bl" style="left:710.4px">Jul</div>
<div class="bt" style="left:905.1px"></div>
<div class="bl" style="left:854.7px">Sep</div>
<div class="bt" style="left:1052.6px"></div>
<div class="bl" style="left:1002.2px">Nov</div>
<div class="bt" style="left:1194.0px"></div>
<div class="bl b" style="left:1143.6px">2015</div>
<div class="bt" style="left:1331.3px"></div>
<div class="bl" style="left:1280.9px">Mar</div>
<div class="bt" style="left:1475.6px"></div>
<div class="bl" style="left:1425.2px">May</div>
<div class="bt" style="left:1616.5px"></div>
<div class="bl" style="left:1566.1px">Jul</div>
<div class="bt" style="left:1760.8px"></div>
<div class="bl" style="left:1710.4px">Sep</div>
<div class="bt" style="left:1905.1px"></div>
<div class="bl" style="left:1854.7px">Nov</div>
<div class="bt" style="left:2049.3px"></div>
<div class="bl b" style="left:1998.9px">2016</div>
<div class="bt" style="left:2187.0px"></div>
<div class="bl" style="left:2136.6px">Mar</div>
<div class="bt" style="left:2331.3px"></div>
<div class="bl" style="left:2280.9px">May</div>
<div class="bt" style="left:2475.1px"></div>
<div class="bl" style="left:2424.7px">Jul</div>
<div class="bt" style="left:2620.5px"></div>
<div class="bl" style="left:2570.1px">Sep</div>
<div class="bt" style="left:2760.8px"></div>
<div class="bl" style="left:2710.4px">Nov</div>
<div class="bt" style="left:2905.1px"></div>
<div class="bl b" style="left:2854.7px">2017</div>
<div class="bt" style="left:3042.8px"></div>
<div class="bl" style="left:2992.4px">Mar</div>
<div class="bt" style="left:3183.8px"></div>
<div class="bl" style="left:3133.4px">May</div>
<div class="bt" style="left:3331.3px"></div>
<div class="bl" style="left:3280.9px">Jul</div>
<div class="bt" style="left:3475.6px"></div>
<div class="bl" style="left:3425.2px">Sep</div>
<div class="bt" style="left:3616.5px"></div>
<div class="bl" style="left:3566.1px">Nov</div>
<!-- price label -->
<div class="abs" style="left:3633px;top:1192.8px;width:79.3px;height:23.7px;background:#00d900"></div>
<div class="abs" style="left:3635px;top:1202.8px;width:5px;height:1.6px;background:#111"></div>
<div class="abs" style="left:3643.8px;top:1195.6px;font-size:16.7px;line-height:20px;color:#000;white-space:nowrap">-16.08%</div>
<!-- realtime -->
<div class="abs" style="left:3546.5px;top:24.5px;width:12px;height:12px;border-radius:6px;background:#2e8b57"></div>
<div class="abs" style="left:3564.6px;top:19px;font-size:16.5px;line-height:20px;color:#2e8b57;white-space:nowrap;letter-spacing:0.65px;-webkit-text-stroke:0.3px #2e8b57">realtime</div>
<!-- legend -->
<div class="abs" style="left:11px;top:20.1px;width:15.6px;height:15.5px;border:1.6px solid #6e6e6e;border-radius:2.5px;box-sizing:content-box"></div>
<div class="abs" style="left:14.1px;top:28.6px;width:12.8px;height:1.6px;background:#666"></div>
<div class="t1" id="ttl" style="left:38.9px;top:16.25px;font-size:26.4px;line-height:30px;color:#4a4a4a;transform:scaleX(0.925);transform-origin:0 0;-webkit-text-stroke:0.15px #4a4a4a">AUD/USD, D,</div>
<div class="abs" style="left:192px;top:28px;width:0;height:0;border-left:6px solid transparent;border-right:6px solid transparent;border-top:6px solid #c3c5ca"></div>
<div class="ib" style="left:219px;top:19.1px;height:20.7px"><svg width="21" height="20.7" viewBox="0 0 21 20.7"><path d="M2.80 10.50C5.90 2.10 15.10 2.10 18.20 10.50C15.10 18.90 5.90 18.90 2.80 10.50Z" fill="#fff"/><circle cx="10.50" cy="10.50" r="4.05" fill="#e1e1e1"/><circle cx="10.50" cy="10.50" r="1.55" fill="#fff"/></svg></div>
<div class="ib" style="left:245px;top:19.1px;height:20.7px"><svg width="21" height="20.7" viewBox="0 0 21 20.7"><path d="M8.77 5.15 L8.92 3.05 L11.98 3.05 L12.13 5.15 L13.11 5.56 L14.70 4.18 L16.87 6.35 L15.49 7.94 L15.90 8.92 L18.00 9.07 L18.00 12.13 L15.90 12.28 L15.49 13.26 L16.87 14.85 L14.70 17.02 L13.11 15.64 L12.13 16.05 L11.98 18.15 L8.92 18.15 L8.77 16.05 L7.79 15.64 L6.20 17.02 L4.03 14.85 L5.41 13.26 L5.00 12.28 L2.90 12.13 L2.90 9.07 L5.00 8.92 L5.41 7.94 L4.03 6.35 L6.20 4.18 L7.79 5.56Z" fill="#fff" stroke="#fff" stroke-width="0.8" stroke-linejoin="round"/><circle cx="10.45" cy="10.60" r="3.2" fill="#e1e1e1"/></svg></div>
<div class="t1" style="left:277.5px;top:22.1px;font-size:18.4px;line-height:20px;transform:scaleX(0.84);transform-origin:0 0;-webkit-text-stroke:0.25px #4a4a4a;color:#4a4a4a">O</div>
<div class="t1 v" style="left:297px;top:21.4px;font-size:17.5px;line-height:22px;color:#00dc00;-webkit-text-stroke:0.5px #00dc00">0.7659</div>
<div class="t1" style="left:359px;top:22.1px;font-size:18.4px;line-height:20px;transform:scaleX(0.84);transform-origin:0 0;-webkit-text-stroke:0.25px #4a4a4a;color:#4a4a4a">H</div>
<div class="t1 v" style="left:378px;top:21.4px;font-size:17.5px;line-height:22px;color:#00dc00;-webkit-text-stroke:0.5px #00dc00">0.7696</div>
<div class="t1" style="left:440px;top:22.1px;font-size:18.4px;line-height:20px;transform:scaleX(0.84);transform-origin:0 0;-webkit-text-stroke:0.25px #4a4a4a;color:#4a4a4a">L</div>
<div class="t1 v" style="left:455.500px;top:21.4px;font-size:17.5px;line-height:22px;color:#00dc00;-webkit-text-stroke:0.5px #00dc00">0.7649</div>
<div class="t1" style="left:517px;top:22.1px;font-size:18.4px;line-height:20px;transform:scaleX(0.84);transform-origin:0 0;-webkit-text-stroke:0.25px #4a4a4a;color:#4a4a4a">C</div>
<div class="t1 v" style="left:535px;top:21.4px;font-size:17.5px;line-height:22px;color:#00dc00;-webkit-text-stroke:0.5px #00dc00">0.7677</div>
<div class="t1" id="ttl2" style="left:10.9px;top:49.7px;font-size:17.6px;line-height:22px;color:#4a4a4a;transform:scaleX(0.929);transform-origin:0 0;-webkit-text-stroke:0.2px #4a4a4a">AUD/EUR, REAL-TIME FX</div>
<div class="abs" style="left:211.9px;top:57.9px;width:0;height:0;border-left:6.3px solid transparent;border-right:6.3px solid transparent;border-top:6.4px solid #c3c5ca"></div>
<div class="ib" style="left:239px;top:51.1px;height:20.7px"><svg width="21" height="20.7" viewBox="0 0 21 20.7"><path d="M2.80 10.40C5.90 2.00 15.10 2.00 18.20 10.40C15.10 18.80 5.90 18.80 2.80 10.40Z" fill="#fff"/><circle cx="10.50" cy="10.40" r="4.05" fill="#e1e1e1"/><circle cx="10.50" cy="10.40" r="1.55" fill="#fff"/></svg></div>
<div class="ib" style="left:265px;top:51.1px;height:20.7px"><svg width="21" height="20.7" viewBox="0 0 21 20.7"><path d="M8.82 4.95 L8.97 2.85 L12.03 2.85 L12.18 4.95 L13.16 5.36 L14.75 3.98 L16.92 6.15 L15.54 7.74 L15.95 8.72 L18.05 8.87 L18.05 11.93 L15.95 12.08 L15.54 13.06 L16.92 14.65 L14.75 16.82 L13.16 15.44 L12.18 15.85 L12.03 17.95 L8.97 17.95 L8.82 15.85 L7.84 15.44 L6.25 16.82 L4.08 14.65 L5.46 13.06 L5.05 12.08 L2.95 11.93 L2.95 8.87 L5.05 8.72 L5.46 7.74 L4.08 6.15 L6.25 3.98 L7.84 5.36Z" fill="#fff" stroke="#fff" stroke-width="0.8" stroke-linejoin="round"/><circle cx="10.50" cy="10.40" r="3.2" fill="#e1e1e1"/></svg></div>
<div class="ib" style="left:289.9px;top:51.1px;height:20.7px"><svg width="21" height="20.7" viewBox="0 0 21 20.7"><path d="M4.2 4L17 16.800M17 4L4.200 16.800" stroke="#fff" stroke-width="2.700"/></svg></div>
<div class="t1" style="left:323.3px;top:51.2px;font-size:17.5px;line-height:22px;color:#800080;-webkit-text-stroke:0.4px #800080">0.66</div>
<!-- logo -->
<div class="t1" id="logo" style="left:21.6px;top:1664.6px;font-size:32px;line-height:44px;font-weight:bold;color:#6b6b6b;letter-spacing:-0.62px;-webkit-text-stroke:0.7px #6b6b6b"><span id="lg1">Investıng</span><span id="lg2" style="font-weight:normal;font-size:22.5px;color:#979797;letter-spacing:-1.35px;margin-left:3.2px;-webkit-text-stroke:0">.com</span></div>
<svg class="abs" style="left:108px;top:1668px" width="14" height="12" viewBox="0 0 14 12"><path d="M3.4 9.800L4.600 5.200Q5 4 6.200 3.700L10.600 3.300L9.400 8.300Q9 9.300 7.800 9.500Z" fill="#fdb74a"/></svg>
</div></body></html>
